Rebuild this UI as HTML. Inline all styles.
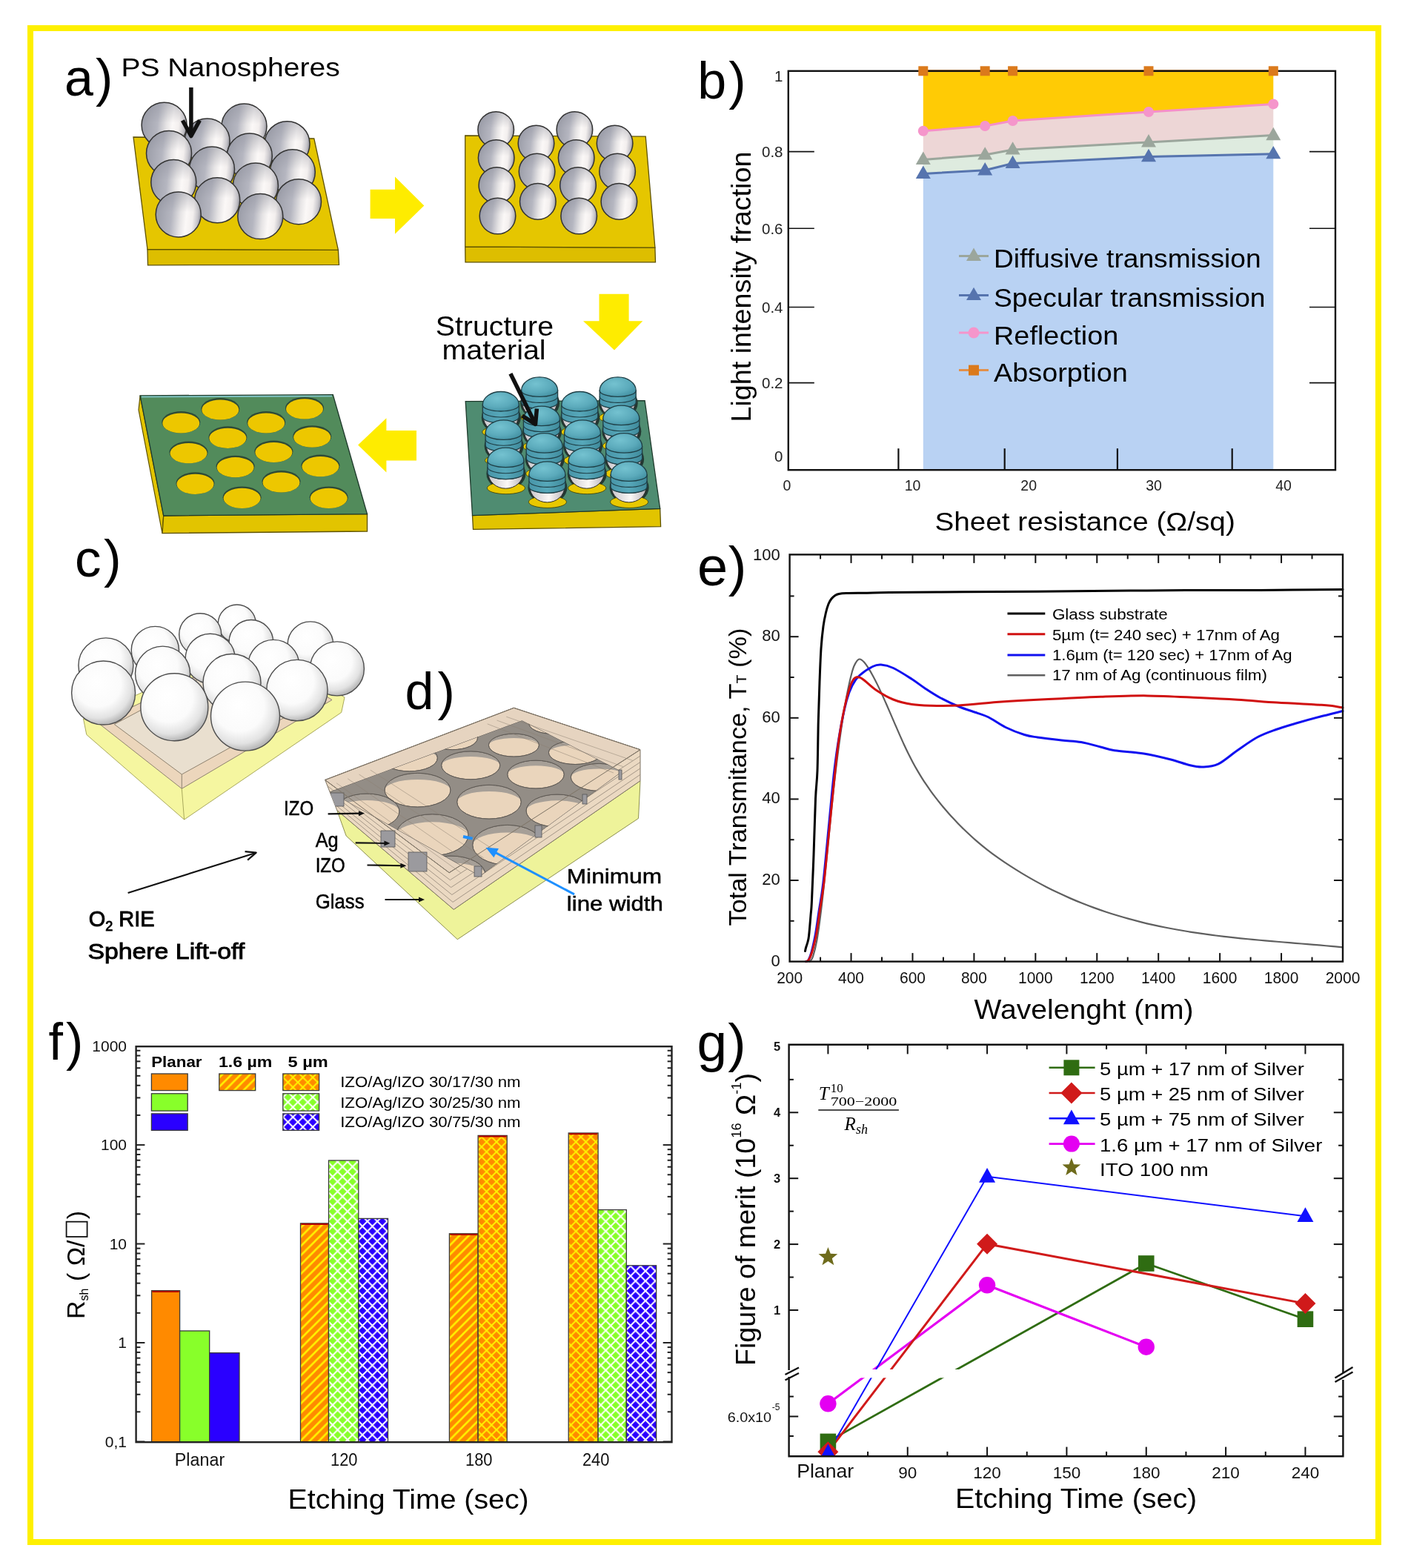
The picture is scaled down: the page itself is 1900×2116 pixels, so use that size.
<!DOCTYPE html>
<html><head><meta charset="utf-8"><title>Figure</title>
<style>html,body{margin:0;padding:0;background:#fff;}svg{display:block;}
text{font-family:"Liberation Sans", Arial, sans-serif;}</style></head>
<body><svg width="1900" height="2116" viewBox="0 0 1900 2116">
<defs><linearGradient id="sphA" x1="0" y1="0.45" x2="1" y2="0.55"><stop offset="0" stop-color="#9B9DA8"/><stop offset="0.35" stop-color="#B5B6C0"/><stop offset="0.55" stop-color="#E6E4E5"/><stop offset="0.68" stop-color="#FBF8F7"/><stop offset="0.82" stop-color="#F3EFEE"/><stop offset="0.93" stop-color="#C6C4C9"/><stop offset="1" stop-color="#8E8E97"/></linearGradient>
<linearGradient id="sphTop" x1="0" y1="0" x2="0" y2="1"><stop offset="0" stop-color="#8A8C98" stop-opacity="0.45"/><stop offset="0.45" stop-color="#8A8C98" stop-opacity="0"/></linearGradient>
<radialGradient id="tealT" cx="0.4" cy="0.35" r="0.75"><stop offset="0" stop-color="#74C2D0"/><stop offset="0.6" stop-color="#5BAABB"/><stop offset="1" stop-color="#3F8D9F"/></radialGradient>
<linearGradient id="tealB" x1="0" y1="0" x2="1" y2="0"><stop offset="0" stop-color="#4895A8"/><stop offset="0.5" stop-color="#57A8BA"/><stop offset="1" stop-color="#3F8A9B"/></linearGradient>
<linearGradient id="wbot" x1="0" y1="0" x2="1" y2="0"><stop offset="0" stop-color="#C9C6CC"/><stop offset="0.55" stop-color="#FBF8F6"/><stop offset="1" stop-color="#B8B4BA"/></linearGradient>
<radialGradient id="sphC" cx="0.42" cy="0.38" r="0.66" fx="0.4" fy="0.33"><stop offset="0" stop-color="#FFFFFF"/><stop offset="0.55" stop-color="#FBFBFB"/><stop offset="0.8" stop-color="#E2E2E2"/><stop offset="1" stop-color="#A9A9A9"/></radialGradient>
<clipPath id="topD"><polygon points="438.7,1052.5 693.4,955.3 864,1011.7 864,1053.7 612.3,1227.3 454.7,1093.3"/></clipPath>
<clipPath id="meshD"><polygon points="444.8,1068.6 704.5,972.2 839.3,1041.4 647.6,1182.4"/></clipPath>
<pattern id="hO" patternUnits="userSpaceOnUse" width="12.5" height="12.5"><rect width="12.5" height="12.5" fill="#FF8A00"/><path d="M-2,14.5 L14.5,-2 M10.5,14.5 L14.5,10.5 M-2,2 L2,-2" stroke="#FFF200" stroke-width="2.6"/></pattern>
<pattern id="cO" patternUnits="userSpaceOnUse" width="13.4" height="13.4"><rect width="13.4" height="13.4" fill="#FF8A00"/><path d="M0,0 L13.4,13.4 M0,13.4 L13.4,0" stroke="#FFF200" stroke-width="2.0" stroke-linecap="square"/></pattern>
<pattern id="cG" patternUnits="userSpaceOnUse" width="13.4" height="13.4"><rect width="13.4" height="13.4" fill="#88FF2A"/><path d="M0,0 L13.4,13.4 M0,13.4 L13.4,0" stroke="#FFFFFF" stroke-width="2.0" stroke-linecap="square"/></pattern>
<pattern id="cB" patternUnits="userSpaceOnUse" width="13.4" height="13.4"><rect width="13.4" height="13.4" fill="#2A00FF"/><path d="M0,0 L13.4,13.4 M0,13.4 L13.4,0" stroke="#FFFFFF" stroke-width="2.0" stroke-linecap="square"/></pattern>
<clipPath id="plotG"><rect x="1064.6" y="1409.8" width="747.8000000000002" height="555.4000000000001"/></clipPath></defs>
<rect x="0" y="0" width="1900" height="2116" fill="#fff"/>
<polygon points="199,336.5 456.4,337.4 457.5,357.4 199.5,357.8" fill="#DDBE00" stroke="#5E5200" stroke-width="1.3"/>
<polygon points="180,185 423.8,187 456.4,337.4 199,336.5" fill="#E5C600" stroke="#5E5200" stroke-width="1.3"/>
<circle cx="221.6" cy="168.8" r="30.5" fill="url(#sphA)" stroke="none" stroke-width="1"/>
<circle cx="221.6" cy="168.8" r="30.5" fill="url(#sphTop)" stroke="#333" stroke-width="1.5"/>
<circle cx="329.5" cy="170.6" r="30.5" fill="url(#sphA)" stroke="none" stroke-width="1"/>
<circle cx="329.5" cy="170.6" r="30.5" fill="url(#sphTop)" stroke="#333" stroke-width="1.5"/>
<circle cx="279.6" cy="190.6" r="30.5" fill="url(#sphA)" stroke="none" stroke-width="1"/>
<circle cx="279.6" cy="190.6" r="30.5" fill="url(#sphTop)" stroke="#333" stroke-width="1.5"/>
<circle cx="387.5" cy="194.2" r="30.5" fill="url(#sphA)" stroke="none" stroke-width="1"/>
<circle cx="387.5" cy="194.2" r="30.5" fill="url(#sphTop)" stroke="#333" stroke-width="1.5"/>
<circle cx="228" cy="206.9" r="30.5" fill="url(#sphA)" stroke="none" stroke-width="1"/>
<circle cx="228" cy="206.9" r="30.5" fill="url(#sphTop)" stroke="#333" stroke-width="1.5"/>
<circle cx="336.8" cy="210.5" r="30.5" fill="url(#sphA)" stroke="none" stroke-width="1"/>
<circle cx="336.8" cy="210.5" r="30.5" fill="url(#sphTop)" stroke="#333" stroke-width="1.5"/>
<circle cx="286" cy="228.6" r="30.5" fill="url(#sphA)" stroke="none" stroke-width="1"/>
<circle cx="286" cy="228.6" r="30.5" fill="url(#sphTop)" stroke="#333" stroke-width="1.5"/>
<circle cx="394.8" cy="232.3" r="30.5" fill="url(#sphA)" stroke="none" stroke-width="1"/>
<circle cx="394.8" cy="232.3" r="30.5" fill="url(#sphTop)" stroke="#333" stroke-width="1.5"/>
<circle cx="234.3" cy="245.9" r="30.5" fill="url(#sphA)" stroke="none" stroke-width="1"/>
<circle cx="234.3" cy="245.9" r="30.5" fill="url(#sphTop)" stroke="#333" stroke-width="1.5"/>
<circle cx="344.9" cy="250.4" r="30.5" fill="url(#sphA)" stroke="none" stroke-width="1"/>
<circle cx="344.9" cy="250.4" r="30.5" fill="url(#sphTop)" stroke="#333" stroke-width="1.5"/>
<circle cx="293.2" cy="270.3" r="30.5" fill="url(#sphA)" stroke="none" stroke-width="1"/>
<circle cx="293.2" cy="270.3" r="30.5" fill="url(#sphTop)" stroke="#333" stroke-width="1.5"/>
<circle cx="403" cy="272.2" r="30.5" fill="url(#sphA)" stroke="none" stroke-width="1"/>
<circle cx="403" cy="272.2" r="30.5" fill="url(#sphTop)" stroke="#333" stroke-width="1.5"/>
<circle cx="240.7" cy="289.4" r="30.5" fill="url(#sphA)" stroke="none" stroke-width="1"/>
<circle cx="240.7" cy="289.4" r="30.5" fill="url(#sphTop)" stroke="#333" stroke-width="1.5"/>
<circle cx="351.3" cy="292.1" r="30.5" fill="url(#sphA)" stroke="none" stroke-width="1"/>
<circle cx="351.3" cy="292.1" r="30.5" fill="url(#sphTop)" stroke="#333" stroke-width="1.5"/>
<line x1="257.9" y1="118" x2="257.9" y2="180.5" stroke="#111" stroke-width="5.5"/>
<polyline points="246.4,162.5 257.9,183.5 269.4,162.5" fill="none" stroke="#111" stroke-width="5.5" stroke-linejoin="round" stroke-linecap="butt"/>
<text x="163.4" y="102.6" font-size="35" fill="#000" textLength="295.4" lengthAdjust="spacingAndGlyphs">PS Nanospheres</text>
<polygon points="499.6,255.8 533,255.8 533,238.5 572.3,277.5 533,315.8 533,295 499.6,295" fill="#FEEC00" stroke="none" stroke-width="1"/>
<polygon points="627.7,333 883.9,334.2 884.5,353.9 628,353.9" fill="#DDBE00" stroke="#5E5200" stroke-width="1.3"/>
<polygon points="627.7,183 871.2,184.2 883.9,334.2 627.7,333" fill="#E5C600" stroke="#5E5200" stroke-width="1.3"/>
<circle cx="669.2" cy="175" r="24.3" fill="url(#sphA)" stroke="none" stroke-width="1"/>
<circle cx="669.2" cy="175" r="24.3" fill="url(#sphTop)" stroke="#333" stroke-width="1.5"/>
<circle cx="775.4" cy="175" r="24.3" fill="url(#sphA)" stroke="none" stroke-width="1"/>
<circle cx="775.4" cy="175" r="24.3" fill="url(#sphTop)" stroke="#333" stroke-width="1.5"/>
<circle cx="723.5" cy="193.5" r="24.3" fill="url(#sphA)" stroke="none" stroke-width="1"/>
<circle cx="723.5" cy="193.5" r="24.3" fill="url(#sphTop)" stroke="#333" stroke-width="1.5"/>
<circle cx="829.6" cy="193.5" r="24.3" fill="url(#sphA)" stroke="none" stroke-width="1"/>
<circle cx="829.6" cy="193.5" r="24.3" fill="url(#sphTop)" stroke="#333" stroke-width="1.5"/>
<circle cx="669.7" cy="213.1" r="24.3" fill="url(#sphA)" stroke="none" stroke-width="1"/>
<circle cx="669.7" cy="213.1" r="24.3" fill="url(#sphTop)" stroke="#333" stroke-width="1.5"/>
<circle cx="777.7" cy="213.1" r="24.3" fill="url(#sphA)" stroke="none" stroke-width="1"/>
<circle cx="777.7" cy="213.1" r="24.3" fill="url(#sphTop)" stroke="#333" stroke-width="1.5"/>
<circle cx="724.6" cy="231.5" r="24.3" fill="url(#sphA)" stroke="none" stroke-width="1"/>
<circle cx="724.6" cy="231.5" r="24.3" fill="url(#sphTop)" stroke="#333" stroke-width="1.5"/>
<circle cx="833.1" cy="231.5" r="24.3" fill="url(#sphA)" stroke="none" stroke-width="1"/>
<circle cx="833.1" cy="231.5" r="24.3" fill="url(#sphTop)" stroke="#333" stroke-width="1.5"/>
<circle cx="670.4" cy="250" r="24.3" fill="url(#sphA)" stroke="none" stroke-width="1"/>
<circle cx="670.4" cy="250" r="24.3" fill="url(#sphTop)" stroke="#333" stroke-width="1.5"/>
<circle cx="780" cy="250" r="24.3" fill="url(#sphA)" stroke="none" stroke-width="1"/>
<circle cx="780" cy="250" r="24.3" fill="url(#sphTop)" stroke="#333" stroke-width="1.5"/>
<circle cx="725.8" cy="271.9" r="24.3" fill="url(#sphA)" stroke="none" stroke-width="1"/>
<circle cx="725.8" cy="271.9" r="24.3" fill="url(#sphTop)" stroke="#333" stroke-width="1.5"/>
<circle cx="835.4" cy="271.9" r="24.3" fill="url(#sphA)" stroke="none" stroke-width="1"/>
<circle cx="835.4" cy="271.9" r="24.3" fill="url(#sphTop)" stroke="#333" stroke-width="1.5"/>
<circle cx="671.5" cy="291.5" r="24.3" fill="url(#sphA)" stroke="none" stroke-width="1"/>
<circle cx="671.5" cy="291.5" r="24.3" fill="url(#sphTop)" stroke="#333" stroke-width="1.5"/>
<circle cx="781.2" cy="291.5" r="24.3" fill="url(#sphA)" stroke="none" stroke-width="1"/>
<circle cx="781.2" cy="291.5" r="24.3" fill="url(#sphTop)" stroke="#333" stroke-width="1.5"/>
<polygon points="808.5,396.8 848.6,396.8 848.6,433.2 867.3,433.2 829,472.5 787,433.2 808.5,433.2" fill="#FEEC00" stroke="none" stroke-width="1"/>
<polygon points="637.5,695.7 890.7,686.4 891.6,710.7 638.5,714.4" fill="#E2C400" stroke="#5E5200" stroke-width="1.3"/>
<polygon points="628.2,541.6 870.1,540.7 890.7,686.4 637.5,695.7" fill="#4F8C71" stroke="#1F3A2C" stroke-width="1.3"/>
<ellipse cx="728.6" cy="543.9" rx="26.5" ry="22" fill="#233832" stroke="none" stroke-width="1"/>
<ellipse cx="728.6" cy="563.4" rx="25.5" ry="8" fill="#E8C800" stroke="#3a3a00" stroke-width="0.8"/>
<path d="M704.6,542.9 A23.5,8.5 0 0 0 751.6,542.9 A23.5,21 0 0 1 704.6,542.9 Z" fill="url(#wbot)" stroke="#2a2a2a" stroke-width="1"/>
<path d="M703.6,526.9 L703.6,542.9 A24.5,8.5 0 0 0 752.6,542.9 L752.6,526.9 Z" fill="url(#tealB)" stroke="#1F3F46" stroke-width="1.3"/>
<path d="M703.6,534.9 A24.5,8.5 0 0 0 752.6,534.9" fill="none" stroke="#1F3F46" stroke-width="1.1"/>
<path d="M703.6,526.9 A24.5,18 0 0 1 752.6,526.9 A24.5,8.5 0 0 1 703.6,526.9 Z" fill="url(#tealT)" stroke="#1F3F46" stroke-width="1.3"/>
<ellipse cx="834.2" cy="543.9" rx="26.5" ry="22" fill="#233832" stroke="none" stroke-width="1"/>
<ellipse cx="834.2" cy="563.4" rx="25.5" ry="8" fill="#E8C800" stroke="#3a3a00" stroke-width="0.8"/>
<path d="M810.2,542.9 A23.5,8.5 0 0 0 857.2,542.9 A23.5,21 0 0 1 810.2,542.9 Z" fill="url(#wbot)" stroke="#2a2a2a" stroke-width="1"/>
<path d="M809.2,526.9 L809.2,542.9 A24.5,8.5 0 0 0 858.2,542.9 L858.2,526.9 Z" fill="url(#tealB)" stroke="#1F3F46" stroke-width="1.3"/>
<path d="M809.2,534.9 A24.5,8.5 0 0 0 858.2,534.9" fill="none" stroke="#1F3F46" stroke-width="1.1"/>
<path d="M809.2,526.9 A24.5,18 0 0 1 858.2,526.9 A24.5,8.5 0 0 1 809.2,526.9 Z" fill="url(#tealT)" stroke="#1F3F46" stroke-width="1.3"/>
<ellipse cx="676.3" cy="563.5" rx="26.5" ry="22" fill="#233832" stroke="none" stroke-width="1"/>
<ellipse cx="676.3" cy="583" rx="25.5" ry="8" fill="#E8C800" stroke="#3a3a00" stroke-width="0.8"/>
<path d="M652.3,562.5 A23.5,8.5 0 0 0 699.3,562.5 A23.5,21 0 0 1 652.3,562.5 Z" fill="url(#wbot)" stroke="#2a2a2a" stroke-width="1"/>
<path d="M651.3,546.5 L651.3,562.5 A24.5,8.5 0 0 0 700.3,562.5 L700.3,546.5 Z" fill="url(#tealB)" stroke="#1F3F46" stroke-width="1.3"/>
<path d="M651.3,554.5 A24.5,8.5 0 0 0 700.3,554.5" fill="none" stroke="#1F3F46" stroke-width="1.1"/>
<path d="M651.3,546.5 A24.5,18 0 0 1 700.3,546.5 A24.5,8.5 0 0 1 651.3,546.5 Z" fill="url(#tealT)" stroke="#1F3F46" stroke-width="1.3"/>
<ellipse cx="782.8" cy="563.5" rx="26.5" ry="22" fill="#233832" stroke="none" stroke-width="1"/>
<ellipse cx="782.8" cy="583" rx="25.5" ry="8" fill="#E8C800" stroke="#3a3a00" stroke-width="0.8"/>
<path d="M758.8,562.5 A23.5,8.5 0 0 0 805.8,562.5 A23.5,21 0 0 1 758.8,562.5 Z" fill="url(#wbot)" stroke="#2a2a2a" stroke-width="1"/>
<path d="M757.8,546.5 L757.8,562.5 A24.5,8.5 0 0 0 806.8,562.5 L806.8,546.5 Z" fill="url(#tealB)" stroke="#1F3F46" stroke-width="1.3"/>
<path d="M757.8,554.5 A24.5,8.5 0 0 0 806.8,554.5" fill="none" stroke="#1F3F46" stroke-width="1.1"/>
<path d="M757.8,546.5 A24.5,18 0 0 1 806.8,546.5 A24.5,8.5 0 0 1 757.8,546.5 Z" fill="url(#tealT)" stroke="#1F3F46" stroke-width="1.3"/>
<ellipse cx="838.8" cy="582.2" rx="26.5" ry="22" fill="#233832" stroke="none" stroke-width="1"/>
<ellipse cx="838.8" cy="601.7" rx="25.5" ry="8" fill="#E8C800" stroke="#3a3a00" stroke-width="0.8"/>
<path d="M814.8,581.2 A23.5,8.5 0 0 0 861.8,581.2 A23.5,21 0 0 1 814.8,581.2 Z" fill="url(#wbot)" stroke="#2a2a2a" stroke-width="1"/>
<path d="M813.8,565.2 L813.8,581.2 A24.5,8.5 0 0 0 862.8,581.2 L862.8,565.2 Z" fill="url(#tealB)" stroke="#1F3F46" stroke-width="1.3"/>
<path d="M813.8,573.2 A24.5,8.5 0 0 0 862.8,573.2" fill="none" stroke="#1F3F46" stroke-width="1.1"/>
<path d="M813.8,565.2 A24.5,18 0 0 1 862.8,565.2 A24.5,8.5 0 0 1 813.8,565.2 Z" fill="url(#tealT)" stroke="#1F3F46" stroke-width="1.3"/>
<ellipse cx="731.4" cy="583.1" rx="26.5" ry="22" fill="#233832" stroke="none" stroke-width="1"/>
<ellipse cx="731.4" cy="602.6" rx="25.5" ry="8" fill="#E8C800" stroke="#3a3a00" stroke-width="0.8"/>
<path d="M707.4,582.1 A23.5,8.5 0 0 0 754.4,582.1 A23.5,21 0 0 1 707.4,582.1 Z" fill="url(#wbot)" stroke="#2a2a2a" stroke-width="1"/>
<path d="M706.4,566.1 L706.4,582.1 A24.5,8.5 0 0 0 755.4,582.1 L755.4,566.1 Z" fill="url(#tealB)" stroke="#1F3F46" stroke-width="1.3"/>
<path d="M706.4,574.1 A24.5,8.5 0 0 0 755.4,574.1" fill="none" stroke="#1F3F46" stroke-width="1.1"/>
<path d="M706.4,566.1 A24.5,18 0 0 1 755.4,566.1 A24.5,8.5 0 0 1 706.4,566.1 Z" fill="url(#tealT)" stroke="#1F3F46" stroke-width="1.3"/>
<ellipse cx="680.1" cy="601.8" rx="26.5" ry="22" fill="#233832" stroke="none" stroke-width="1"/>
<ellipse cx="680.1" cy="621.3" rx="25.5" ry="8" fill="#E8C800" stroke="#3a3a00" stroke-width="0.8"/>
<path d="M656.1,600.8 A23.5,8.5 0 0 0 703.1,600.8 A23.5,21 0 0 1 656.1,600.8 Z" fill="url(#wbot)" stroke="#2a2a2a" stroke-width="1"/>
<path d="M655.1,584.8 L655.1,600.8 A24.5,8.5 0 0 0 704.1,600.8 L704.1,584.8 Z" fill="url(#tealB)" stroke="#1F3F46" stroke-width="1.3"/>
<path d="M655.1,592.8 A24.5,8.5 0 0 0 704.1,592.8" fill="none" stroke="#1F3F46" stroke-width="1.1"/>
<path d="M655.1,584.8 A24.5,18 0 0 1 704.1,584.8 A24.5,8.5 0 0 1 655.1,584.8 Z" fill="url(#tealT)" stroke="#1F3F46" stroke-width="1.3"/>
<ellipse cx="786.5" cy="601.8" rx="26.5" ry="22" fill="#233832" stroke="none" stroke-width="1"/>
<ellipse cx="786.5" cy="621.3" rx="25.5" ry="8" fill="#E8C800" stroke="#3a3a00" stroke-width="0.8"/>
<path d="M762.5,600.8 A23.5,8.5 0 0 0 809.5,600.8 A23.5,21 0 0 1 762.5,600.8 Z" fill="url(#wbot)" stroke="#2a2a2a" stroke-width="1"/>
<path d="M761.5,584.8 L761.5,600.8 A24.5,8.5 0 0 0 810.5,600.8 L810.5,584.8 Z" fill="url(#tealB)" stroke="#1F3F46" stroke-width="1.3"/>
<path d="M761.5,592.8 A24.5,8.5 0 0 0 810.5,592.8" fill="none" stroke="#1F3F46" stroke-width="1.1"/>
<path d="M761.5,584.8 A24.5,18 0 0 1 810.5,584.8 A24.5,8.5 0 0 1 761.5,584.8 Z" fill="url(#tealT)" stroke="#1F3F46" stroke-width="1.3"/>
<ellipse cx="735.2" cy="619.6" rx="26.5" ry="22" fill="#233832" stroke="none" stroke-width="1"/>
<ellipse cx="735.2" cy="639.1" rx="25.5" ry="8" fill="#E8C800" stroke="#3a3a00" stroke-width="0.8"/>
<path d="M711.2,618.6 A23.5,8.5 0 0 0 758.2,618.6 A23.5,21 0 0 1 711.2,618.6 Z" fill="url(#wbot)" stroke="#2a2a2a" stroke-width="1"/>
<path d="M710.2,602.6 L710.2,618.6 A24.5,8.5 0 0 0 759.2,618.6 L759.2,602.6 Z" fill="url(#tealB)" stroke="#1F3F46" stroke-width="1.3"/>
<path d="M710.2,610.6 A24.5,8.5 0 0 0 759.2,610.6" fill="none" stroke="#1F3F46" stroke-width="1.1"/>
<path d="M710.2,602.6 A24.5,18 0 0 1 759.2,602.6 A24.5,8.5 0 0 1 710.2,602.6 Z" fill="url(#tealT)" stroke="#1F3F46" stroke-width="1.3"/>
<ellipse cx="842.6" cy="619.6" rx="26.5" ry="22" fill="#233832" stroke="none" stroke-width="1"/>
<ellipse cx="842.6" cy="639.1" rx="25.5" ry="8" fill="#E8C800" stroke="#3a3a00" stroke-width="0.8"/>
<path d="M818.6,618.6 A23.5,8.5 0 0 0 865.6,618.6 A23.5,21 0 0 1 818.6,618.6 Z" fill="url(#wbot)" stroke="#2a2a2a" stroke-width="1"/>
<path d="M817.6,602.6 L817.6,618.6 A24.5,8.5 0 0 0 866.6,618.6 L866.6,602.6 Z" fill="url(#tealB)" stroke="#1F3F46" stroke-width="1.3"/>
<path d="M817.6,610.6 A24.5,8.5 0 0 0 866.6,610.6" fill="none" stroke="#1F3F46" stroke-width="1.1"/>
<path d="M817.6,602.6 A24.5,18 0 0 1 866.6,602.6 A24.5,8.5 0 0 1 817.6,602.6 Z" fill="url(#tealT)" stroke="#1F3F46" stroke-width="1.3"/>
<ellipse cx="682.9" cy="639.2" rx="26.5" ry="22" fill="#233832" stroke="none" stroke-width="1"/>
<ellipse cx="682.9" cy="658.7" rx="25.5" ry="8" fill="#E8C800" stroke="#3a3a00" stroke-width="0.8"/>
<path d="M658.9,638.2 A23.5,8.5 0 0 0 705.9,638.2 A23.5,21 0 0 1 658.9,638.2 Z" fill="url(#wbot)" stroke="#2a2a2a" stroke-width="1"/>
<path d="M657.9,622.2 L657.9,638.2 A24.5,8.5 0 0 0 706.9,638.2 L706.9,622.2 Z" fill="url(#tealB)" stroke="#1F3F46" stroke-width="1.3"/>
<path d="M657.9,630.2 A24.5,8.5 0 0 0 706.9,630.2" fill="none" stroke="#1F3F46" stroke-width="1.1"/>
<path d="M657.9,622.2 A24.5,18 0 0 1 706.9,622.2 A24.5,8.5 0 0 1 657.9,622.2 Z" fill="url(#tealT)" stroke="#1F3F46" stroke-width="1.3"/>
<ellipse cx="792.2" cy="639.2" rx="26.5" ry="22" fill="#233832" stroke="none" stroke-width="1"/>
<ellipse cx="792.2" cy="658.7" rx="25.5" ry="8" fill="#E8C800" stroke="#3a3a00" stroke-width="0.8"/>
<path d="M768.2,638.2 A23.5,8.5 0 0 0 815.2,638.2 A23.5,21 0 0 1 768.2,638.2 Z" fill="url(#wbot)" stroke="#2a2a2a" stroke-width="1"/>
<path d="M767.2,622.2 L767.2,638.2 A24.5,8.5 0 0 0 816.2,638.2 L816.2,622.2 Z" fill="url(#tealB)" stroke="#1F3F46" stroke-width="1.3"/>
<path d="M767.2,630.2 A24.5,8.5 0 0 0 816.2,630.2" fill="none" stroke="#1F3F46" stroke-width="1.1"/>
<path d="M767.2,622.2 A24.5,18 0 0 1 816.2,622.2 A24.5,8.5 0 0 1 767.2,622.2 Z" fill="url(#tealT)" stroke="#1F3F46" stroke-width="1.3"/>
<ellipse cx="738.9" cy="657.9" rx="26.5" ry="22" fill="#233832" stroke="none" stroke-width="1"/>
<ellipse cx="738.9" cy="677.4" rx="25.5" ry="8" fill="#E8C800" stroke="#3a3a00" stroke-width="0.8"/>
<path d="M714.9,656.9 A23.5,8.5 0 0 0 761.9,656.9 A23.5,21 0 0 1 714.9,656.9 Z" fill="url(#wbot)" stroke="#2a2a2a" stroke-width="1"/>
<path d="M713.9,640.9 L713.9,656.9 A24.5,8.5 0 0 0 762.9,656.9 L762.9,640.9 Z" fill="url(#tealB)" stroke="#1F3F46" stroke-width="1.3"/>
<path d="M713.9,648.9 A24.5,8.5 0 0 0 762.9,648.9" fill="none" stroke="#1F3F46" stroke-width="1.1"/>
<path d="M713.9,640.9 A24.5,18 0 0 1 762.9,640.9 A24.5,8.5 0 0 1 713.9,640.9 Z" fill="url(#tealT)" stroke="#1F3F46" stroke-width="1.3"/>
<ellipse cx="849.1" cy="657.9" rx="26.5" ry="22" fill="#233832" stroke="none" stroke-width="1"/>
<ellipse cx="849.1" cy="677.4" rx="25.5" ry="8" fill="#E8C800" stroke="#3a3a00" stroke-width="0.8"/>
<path d="M825.1,656.9 A23.5,8.5 0 0 0 872.1,656.9 A23.5,21 0 0 1 825.1,656.9 Z" fill="url(#wbot)" stroke="#2a2a2a" stroke-width="1"/>
<path d="M824.1,640.9 L824.1,656.9 A24.5,8.5 0 0 0 873.1,656.9 L873.1,640.9 Z" fill="url(#tealB)" stroke="#1F3F46" stroke-width="1.3"/>
<path d="M824.1,648.9 A24.5,8.5 0 0 0 873.1,648.9" fill="none" stroke="#1F3F46" stroke-width="1.1"/>
<path d="M824.1,640.9 A24.5,18 0 0 1 873.1,640.9 A24.5,8.5 0 0 1 824.1,640.9 Z" fill="url(#tealT)" stroke="#1F3F46" stroke-width="1.3"/>
<text x="587.8" y="452.9" font-size="36" fill="#000" textLength="159.2" lengthAdjust="spacingAndGlyphs">Structure</text>
<text x="596.4" y="484.6" font-size="36" fill="#000" textLength="140.2" lengthAdjust="spacingAndGlyphs">material</text>
<line x1="688.9" y1="504.2" x2="721.17" y2="569.71" stroke="#111" stroke-width="5.5"/>
<polyline points="704.68,561.11 722.5,572.4 724.41,551.39" fill="none" stroke="#111" stroke-width="5.5" stroke-linejoin="round" stroke-linecap="butt"/>
<polygon points="562,581.1 521.4,581.1 521.4,564.2 483.1,600.5 521.4,637.4 521.4,621.6 562,621.6" fill="#FEEC00" stroke="none" stroke-width="1"/>
<polygon points="189.1,533.8 220.7,696 219,719.6 187,553" fill="#E2C400" stroke="#5E5200" stroke-width="1.2"/>
<polygon points="220.7,696 495.5,693.7 495.5,717 219,719.6" fill="#E2C400" stroke="#5E5200" stroke-width="1.3"/>
<polygon points="189.1,533.8 449.3,532.7 495.5,693.7 220.7,696" fill="#528B5B" stroke="#1F3A2C" stroke-width="1.3"/>
<line x1="191" y1="535.5" x2="448" y2="534.5" stroke="#7EC0C0" stroke-width="2"/>
<ellipse cx="297.3" cy="551.8" rx="26" ry="14.8" fill="#2E4A36" stroke="none" stroke-width="1"/>
<ellipse cx="297.3" cy="553" rx="25" ry="13.6" fill="#EDC700" stroke="none" stroke-width="1"/>
<ellipse cx="411" cy="550.7" rx="26" ry="14.8" fill="#2E4A36" stroke="none" stroke-width="1"/>
<ellipse cx="411" cy="551.9" rx="25" ry="13.6" fill="#EDC700" stroke="none" stroke-width="1"/>
<ellipse cx="244.3" cy="569.8" rx="26" ry="14.8" fill="#2E4A36" stroke="none" stroke-width="1"/>
<ellipse cx="244.3" cy="571" rx="25" ry="13.6" fill="#EDC700" stroke="none" stroke-width="1"/>
<ellipse cx="359.2" cy="569.8" rx="26" ry="14.8" fill="#2E4A36" stroke="none" stroke-width="1"/>
<ellipse cx="359.2" cy="571" rx="25" ry="13.6" fill="#EDC700" stroke="none" stroke-width="1"/>
<ellipse cx="307.4" cy="590.1" rx="26" ry="14.8" fill="#2E4A36" stroke="none" stroke-width="1"/>
<ellipse cx="307.4" cy="591.3" rx="25" ry="13.6" fill="#EDC700" stroke="none" stroke-width="1"/>
<ellipse cx="421.2" cy="589" rx="26" ry="14.8" fill="#2E4A36" stroke="none" stroke-width="1"/>
<ellipse cx="421.2" cy="590.2" rx="25" ry="13.6" fill="#EDC700" stroke="none" stroke-width="1"/>
<ellipse cx="254.5" cy="610.4" rx="26" ry="14.8" fill="#2E4A36" stroke="none" stroke-width="1"/>
<ellipse cx="254.5" cy="611.6" rx="25" ry="13.6" fill="#EDC700" stroke="none" stroke-width="1"/>
<ellipse cx="369.4" cy="609.3" rx="26" ry="14.8" fill="#2E4A36" stroke="none" stroke-width="1"/>
<ellipse cx="369.4" cy="610.5" rx="25" ry="13.6" fill="#EDC700" stroke="none" stroke-width="1"/>
<ellipse cx="317.6" cy="629.5" rx="26" ry="14.8" fill="#2E4A36" stroke="none" stroke-width="1"/>
<ellipse cx="317.6" cy="630.7" rx="25" ry="13.6" fill="#EDC700" stroke="none" stroke-width="1"/>
<ellipse cx="432.4" cy="628.4" rx="26" ry="14.8" fill="#2E4A36" stroke="none" stroke-width="1"/>
<ellipse cx="432.4" cy="629.6" rx="25" ry="13.6" fill="#EDC700" stroke="none" stroke-width="1"/>
<ellipse cx="263.5" cy="652.1" rx="26" ry="14.8" fill="#2E4A36" stroke="none" stroke-width="1"/>
<ellipse cx="263.5" cy="653.3" rx="25" ry="13.6" fill="#EDC700" stroke="none" stroke-width="1"/>
<ellipse cx="379.5" cy="649.8" rx="26" ry="14.8" fill="#2E4A36" stroke="none" stroke-width="1"/>
<ellipse cx="379.5" cy="651" rx="25" ry="13.6" fill="#EDC700" stroke="none" stroke-width="1"/>
<ellipse cx="326.6" cy="671.2" rx="26" ry="14.8" fill="#2E4A36" stroke="none" stroke-width="1"/>
<ellipse cx="326.6" cy="672.4" rx="25" ry="13.6" fill="#EDC700" stroke="none" stroke-width="1"/>
<ellipse cx="443.7" cy="671.2" rx="26" ry="14.8" fill="#2E4A36" stroke="none" stroke-width="1"/>
<ellipse cx="443.7" cy="672.4" rx="25" ry="13.6" fill="#EDC700" stroke="none" stroke-width="1"/>
<polygon points="112.5,970 116.8,991.4 248.6,1106 460.7,961.4 465,941 340,868" fill="#F5F6A0" stroke="#A9A95C" stroke-width="1"/>
<polygon points="133,976 245.3,1064.3 448,944.5 340,876" fill="#ECD6BC" stroke="#8E826F" stroke-width="1"/>
<polygon points="154.3,977.5 245.3,1045 442,936 340,878" fill="#E9DFCF" stroke="#8E826F" stroke-width="1"/>
<line x1="245.3" y1="1045" x2="245.3" y2="1064.3" stroke="#8E826F" stroke-width="1"/>
<line x1="245.3" y1="1064.3" x2="248.6" y2="1106" stroke="#A9A95C" stroke-width="1"/>
<line x1="112.5" y1="970" x2="133" y2="976" stroke="#A9A95C" stroke-width="1"/>
<circle cx="319.8" cy="841.5" r="25.5" fill="url(#sphC)" stroke="#4d4d4d" stroke-width="1.4"/>
<circle cx="270.2" cy="856.2" r="28.5" fill="url(#sphC)" stroke="#4d4d4d" stroke-width="1.4"/>
<circle cx="418.9" cy="869.7" r="30.8" fill="url(#sphC)" stroke="#4d4d4d" stroke-width="1.4"/>
<circle cx="338.9" cy="866.3" r="29.8" fill="url(#sphC)" stroke="#4d4d4d" stroke-width="1.4"/>
<circle cx="209.4" cy="877.6" r="32.2" fill="url(#sphC)" stroke="#4d4d4d" stroke-width="1.4"/>
<circle cx="142.9" cy="897.9" r="37" fill="url(#sphC)" stroke="#4d4d4d" stroke-width="1.4"/>
<circle cx="283.7" cy="888.8" r="33.5" fill="url(#sphC)" stroke="#4d4d4d" stroke-width="1.4"/>
<circle cx="369.3" cy="897.9" r="34.5" fill="url(#sphC)" stroke="#4d4d4d" stroke-width="1.4"/>
<circle cx="219.5" cy="909.1" r="37" fill="url(#sphC)" stroke="#4d4d4d" stroke-width="1.4"/>
<circle cx="454.9" cy="902.4" r="36.5" fill="url(#sphC)" stroke="#4d4d4d" stroke-width="1.4"/>
<circle cx="313" cy="921.5" r="39" fill="url(#sphC)" stroke="#4d4d4d" stroke-width="1.4"/>
<circle cx="400.9" cy="931.6" r="41.2" fill="url(#sphC)" stroke="#4d4d4d" stroke-width="1.4"/>
<circle cx="139.6" cy="935" r="43" fill="url(#sphC)" stroke="#4d4d4d" stroke-width="1.4"/>
<circle cx="235.3" cy="954.2" r="45.5" fill="url(#sphC)" stroke="#4d4d4d" stroke-width="1.4"/>
<circle cx="331" cy="966.6" r="46.5" fill="url(#sphC)" stroke="#4d4d4d" stroke-width="1.4"/>
<polygon points="454.7,1093.3 467.1,1127.9 617.3,1267.7 861.5,1104.4 864,1053.7 612.3,1227.3" fill="#EEF39A" stroke="#8E9150" stroke-width="1"/>
<polygon points="438.7,1052.5 693.4,955.3 864,1011.7 864,1053.7 612.3,1227.3 454.7,1093.3" fill="#EBD9C2" stroke="#7E7466" stroke-width="1"/>
<polyline points="441.9,1060.66 607.42,1187.62 864,1020.1" fill="none" stroke="#9C8F80" stroke-width="0.9" stroke-linejoin="round"/>
<polyline points="445.1,1068.82 608.64,1197.54 864,1028.5" fill="none" stroke="#9C8F80" stroke-width="0.9" stroke-linejoin="round"/>
<polyline points="448.3,1076.98 609.86,1207.46 864,1036.9" fill="none" stroke="#9C8F80" stroke-width="0.9" stroke-linejoin="round"/>
<polyline points="451.5,1085.14 611.08,1217.38 864,1045.3" fill="none" stroke="#9C8F80" stroke-width="0.9" stroke-linejoin="round"/>
<polygon points="438.7,1052.5 693.4,955.3 864,1011.7 606.2,1177.7" fill="#E6D4C0" stroke="#7E7466" stroke-width="1"/>
<g clip-path="url(#topD)"><g clip-path="url(#meshD)">
<ellipse cx="693.4" cy="1005.6" rx="34" ry="15.5" fill="#EAD5BC" stroke="none" stroke-width="1"/>
<path d="M659.4,1005.6 a34,15.5 0 0 1 68,0 a34,9.61 0 0 0 -68,0 Z" fill="#A69F97"/>
<ellipse cx="693.4" cy="1005.6" rx="34" ry="15.5" fill="none" stroke="#5E5954" stroke-width="1"/>
<ellipse cx="776.2" cy="1015.5" rx="35.8" ry="16" fill="#EAD5BC" stroke="none" stroke-width="1"/>
<path d="M740.4,1015.5 a35.8,16 0 0 1 71.6,0 a35.8,9.92 0 0 0 -71.6,0 Z" fill="#A69F97"/>
<ellipse cx="776.2" cy="1015.5" rx="35.8" ry="16" fill="none" stroke="#5E5954" stroke-width="1"/>
<ellipse cx="635.2" cy="1032.8" rx="39.6" ry="19" fill="#EAD5BC" stroke="none" stroke-width="1"/>
<path d="M595.6,1032.8 a39.6,19 0 0 1 79.2,0 a39.6,11.78 0 0 0 -79.2,0 Z" fill="#A69F97"/>
<ellipse cx="635.2" cy="1032.8" rx="39.6" ry="19" fill="none" stroke="#5E5954" stroke-width="1"/>
<ellipse cx="723" cy="1045.1" rx="38.3" ry="19" fill="#EAD5BC" stroke="none" stroke-width="1"/>
<path d="M684.7,1045.1 a38.3,19 0 0 1 76.6,0 a38.3,11.78 0 0 0 -76.6,0 Z" fill="#A69F97"/>
<ellipse cx="723" cy="1045.1" rx="38.3" ry="19" fill="none" stroke="#5E5954" stroke-width="1"/>
<ellipse cx="808.3" cy="1048.9" rx="38" ry="18.5" fill="#EAD5BC" stroke="none" stroke-width="1"/>
<path d="M770.3,1048.9 a38,18.5 0 0 1 76,0 a38,11.47 0 0 0 -76,0 Z" fill="#A69F97"/>
<ellipse cx="808.3" cy="1048.9" rx="38" ry="18.5" fill="none" stroke="#5E5954" stroke-width="1"/>
<ellipse cx="563.5" cy="1066.2" rx="44.5" ry="22.9" fill="#EAD5BC" stroke="none" stroke-width="1"/>
<path d="M519,1066.2 a44.5,22.9 0 0 1 89,0 a44.5,14.2 0 0 0 -89,0 Z" fill="#A69F97"/>
<ellipse cx="563.5" cy="1066.2" rx="44.5" ry="22.9" fill="none" stroke="#5E5954" stroke-width="1"/>
<ellipse cx="660" cy="1082.2" rx="43.3" ry="22.9" fill="#EAD5BC" stroke="none" stroke-width="1"/>
<path d="M616.7,1082.2 a43.3,22.9 0 0 1 86.6,0 a43.3,14.2 0 0 0 -86.6,0 Z" fill="#A69F97"/>
<ellipse cx="660" cy="1082.2" rx="43.3" ry="22.9" fill="none" stroke="#5E5954" stroke-width="1"/>
<ellipse cx="752" cy="1094" rx="42" ry="22" fill="#EAD5BC" stroke="none" stroke-width="1"/>
<path d="M710,1094 a42,22 0 0 1 84,0 a42,13.64 0 0 0 -84,0 Z" fill="#A69F97"/>
<ellipse cx="752" cy="1094" rx="42" ry="22" fill="none" stroke="#5E5954" stroke-width="1"/>
<ellipse cx="583.3" cy="1126.7" rx="48.8" ry="28" fill="#EAD5BC" stroke="none" stroke-width="1"/>
<path d="M534.5,1126.7 a48.8,28 0 0 1 97.6,0 a48.8,17.36 0 0 0 -97.6,0 Z" fill="#A69F97"/>
<ellipse cx="583.3" cy="1126.7" rx="48.8" ry="28" fill="none" stroke="#5E5954" stroke-width="1"/>
<ellipse cx="684.7" cy="1140.3" rx="47" ry="27" fill="#EAD5BC" stroke="none" stroke-width="1"/>
<path d="M637.7,1140.3 a47,27 0 0 1 94,0 a47,16.74 0 0 0 -94,0 Z" fill="#A69F97"/>
<ellipse cx="684.7" cy="1140.3" rx="47" ry="27" fill="none" stroke="#5E5954" stroke-width="1"/>
<ellipse cx="495" cy="1095" rx="44" ry="24" fill="#EAD5BC" stroke="none" stroke-width="1"/>
<path d="M451,1095 a44,24 0 0 1 88,0 a44,14.88 0 0 0 -88,0 Z" fill="#A69F97"/>
<ellipse cx="495" cy="1095" rx="44" ry="24" fill="none" stroke="#5E5954" stroke-width="1"/>
<ellipse cx="608" cy="1180" rx="47" ry="25" fill="#EAD5BC" stroke="none" stroke-width="1"/>
<path d="M561,1180 a47,25 0 0 1 94,0 a47,15.5 0 0 0 -94,0 Z" fill="#A69F97"/>
<ellipse cx="608" cy="1180" rx="47" ry="25" fill="none" stroke="#5E5954" stroke-width="1"/>
<ellipse cx="552.4" cy="1022.9" rx="38" ry="18" fill="#EAD5BC" stroke="none" stroke-width="1"/>
<path d="M514.4,1022.9 a38,18 0 0 1 76,0 a38,11.16 0 0 0 -76,0 Z" fill="#A69F97"/>
<ellipse cx="552.4" cy="1022.9" rx="38" ry="18" fill="none" stroke="#5E5954" stroke-width="1"/>
<ellipse cx="610.6" cy="995.7" rx="34" ry="16" fill="#EAD5BC" stroke="none" stroke-width="1"/>
<path d="M576.6,995.7 a34,16 0 0 1 68,0 a34,9.92 0 0 0 -68,0 Z" fill="#A69F97"/>
<ellipse cx="610.6" cy="995.7" rx="34" ry="16" fill="none" stroke="#5E5954" stroke-width="1"/>
<ellipse cx="665" cy="968" rx="31" ry="14" fill="#EAD5BC" stroke="none" stroke-width="1"/>
<path d="M634,968 a31,14 0 0 1 62,0 a31,8.68 0 0 0 -62,0 Z" fill="#A69F97"/>
<ellipse cx="665" cy="968" rx="31" ry="14" fill="none" stroke="#5E5954" stroke-width="1"/>
<ellipse cx="746.6" cy="976" rx="33" ry="14.5" fill="#EAD5BC" stroke="none" stroke-width="1"/>
<path d="M713.6,976 a33,14.5 0 0 1 66,0 a33,8.99 0 0 0 -66,0 Z" fill="#A69F97"/>
<ellipse cx="746.6" cy="976" rx="33" ry="14.5" fill="none" stroke="#5E5954" stroke-width="1"/>
<path d="M444.8,1068.6 L704.5,972.2 L839.3,1041.4 L647.6,1182.4 Z M659.4,1005.6 a34,15.5 0 1 0 68,0 a34,15.5 0 1 0 -68,0 Z M740.4,1015.5 a35.8,16 0 1 0 71.6,0 a35.8,16 0 1 0 -71.6,0 Z M595.6,1032.8 a39.6,19 0 1 0 79.2,0 a39.6,19 0 1 0 -79.2,0 Z M684.7,1045.1 a38.3,19 0 1 0 76.6,0 a38.3,19 0 1 0 -76.6,0 Z M770.3,1048.9 a38,18.5 0 1 0 76,0 a38,18.5 0 1 0 -76,0 Z M519,1066.2 a44.5,22.9 0 1 0 89,0 a44.5,22.9 0 1 0 -89,0 Z M616.7,1082.2 a43.3,22.9 0 1 0 86.6,0 a43.3,22.9 0 1 0 -86.6,0 Z M710,1094 a42,22 0 1 0 84,0 a42,22 0 1 0 -84,0 Z M534.5,1126.7 a48.8,28 0 1 0 97.6,0 a48.8,28 0 1 0 -97.6,0 Z M637.7,1140.3 a47,27 0 1 0 94,0 a47,27 0 1 0 -94,0 Z M451,1095 a44,24 0 1 0 88,0 a44,24 0 1 0 -88,0 Z M561,1180 a47,25 0 1 0 94,0 a47,25 0 1 0 -94,0 Z M514.4,1022.9 a38,18 0 1 0 76,0 a38,18 0 1 0 -76,0 Z M576.6,995.7 a34,16 0 1 0 68,0 a34,16 0 1 0 -68,0 Z M634,968 a31,14 0 1 0 62,0 a31,14 0 1 0 -62,0 Z M713.6,976 a33,14.5 0 1 0 66,0 a33,14.5 0 1 0 -66,0 Z" fill="#938D86" stroke="#5E5954" stroke-width="1" fill-rule="evenodd"/>
</g>
<rect x="446" y="1070" width="18" height="18" fill="#9B9A9E" stroke="#555" stroke-width="0.8"/>
<rect x="514" y="1121" width="19" height="22" fill="#9B9A9E" stroke="#555" stroke-width="0.8"/>
<rect x="551" y="1150" width="25" height="26" fill="#9B9A9E" stroke="#555" stroke-width="0.8"/>
<rect x="640" y="1169" width="10" height="14" fill="#9B9A9E" stroke="#555" stroke-width="0.8"/>
<rect x="722" y="1114" width="9" height="16" fill="#9B9A9E" stroke="#555" stroke-width="0.8"/>
<rect x="786" y="1072" width="6" height="13" fill="#9B9A9E" stroke="#555" stroke-width="0.8"/>
<rect x="835" y="1039" width="4" height="13" fill="#9B9A9E" stroke="#555" stroke-width="0.8"/>
</g>
<g clip-path="url(#topD)" opacity="0.55">
<line x1="453.98" y1="1056.67" x2="621.67" y2="1177.74" stroke="#8C8072" stroke-width="0.9"/>
<line x1="469.26" y1="1050.84" x2="637.14" y2="1167.78" stroke="#8C8072" stroke-width="0.9"/>
<line x1="484.55" y1="1045" x2="652.6" y2="1157.82" stroke="#8C8072" stroke-width="0.9"/>
<line x1="499.83" y1="1039.17" x2="668.07" y2="1147.86" stroke="#8C8072" stroke-width="0.9"/>
<line x1="657.74" y1="976.91" x2="827.91" y2="1042.94" stroke="#8C8072" stroke-width="0.9"/>
<line x1="670.48" y1="972.05" x2="840.8" y2="1034.64" stroke="#8C8072" stroke-width="0.9"/>
<line x1="683.21" y1="967.19" x2="853.69" y2="1026.34" stroke="#8C8072" stroke-width="0.9"/>
</g>
<polygon points="438.7,1052.5 693.4,955.3 864,1011.7 606.2,1177.7" fill="none" stroke="#7E7466" stroke-width="1"/>
<text x="383.1" y="1100.4" font-size="27" fill="#000" textLength="40.1" lengthAdjust="spacingAndGlyphs" stroke="#000" stroke-width="0.5">IZO</text>
<text x="425.7" y="1143" font-size="27" fill="#000" textLength="31" lengthAdjust="spacingAndGlyphs" stroke="#000" stroke-width="0.5">Ag</text>
<text x="425.7" y="1176.5" font-size="27" fill="#000" textLength="40.1" lengthAdjust="spacingAndGlyphs" stroke="#000" stroke-width="0.5">IZO</text>
<text x="425.7" y="1225.6" font-size="27" fill="#000" textLength="65.9" lengthAdjust="spacingAndGlyphs" stroke="#000" stroke-width="0.5">Glass</text>
<line x1="442.6" y1="1098.4" x2="487.2" y2="1097.59" stroke="#111" stroke-width="2.2"/>
<polygon points="484.07,1101.15 492,1097.5 483.94,1094.15" fill="#111" stroke="none" stroke-width="1"/>
<line x1="479.7" y1="1137.3" x2="521.6" y2="1137.93" stroke="#111" stroke-width="2.2"/>
<polygon points="518.35,1141.38 526.4,1138 518.45,1134.38" fill="#111" stroke="none" stroke-width="1"/>
<line x1="495.5" y1="1167.5" x2="543.6" y2="1168.23" stroke="#111" stroke-width="2.2"/>
<polygon points="540.35,1171.68 548.4,1168.3 540.45,1164.68" fill="#111" stroke="none" stroke-width="1"/>
<line x1="519.5" y1="1214" x2="568.2" y2="1214" stroke="#111" stroke-width="2.2"/>
<polygon points="565,1217.5 573,1214 565,1210.5" fill="#111" stroke="none" stroke-width="1"/>
<text x="764.8" y="1191.8" font-size="27" fill="#000" textLength="128.2" lengthAdjust="spacingAndGlyphs" stroke="#000" stroke-width="0.5">Minimum</text>
<text x="764.8" y="1228.9" font-size="27" fill="#000" textLength="130" lengthAdjust="spacingAndGlyphs" stroke="#000" stroke-width="0.5">line width</text>
<line x1="775" y1="1206.9" x2="663.99" y2="1148.19" stroke="#1E90FF" stroke-width="3"/>
<polygon points="672.92,1144.99 655.5,1143.7 666.37,1157.37" fill="#1E90FF" stroke="none" stroke-width="1"/>
<line x1="625" y1="1129" x2="637.6" y2="1131.6" stroke="#1E90FF" stroke-width="4"/>
<text x="119.7" y="1250.2" font-size="29" stroke="#000" stroke-width="0.9">O<tspan font-size="18" dy="6">2</tspan><tspan dy="-6"> RIE</tspan></text>
<text x="118.4" y="1294" font-size="29" fill="#000" textLength="211.8" lengthAdjust="spacingAndGlyphs" stroke="#000" stroke-width="0.9">Sphere Lift-off</text>
<line x1="172.6" y1="1205" x2="345.7" y2="1150.7" stroke="#111" stroke-width="2.2"/>
<polyline points="334.14,1160.62 345.7,1150.7 330.55,1149.17" fill="none" stroke="#111" stroke-width="2.2" stroke-linejoin="round"/>
<polygon points="1245.8,95.8 1718.3,95.8 1718.3,140.4 1550,151 1366.6,163 1329.2,170 1245.8,176.8" fill="#FFCB05" stroke="none" stroke-width="1"/>
<polygon points="1245.8,176.8 1329.2,170 1366.6,163 1550,151 1718.3,140.4 1718.3,182.6 1550,191.9 1366.6,202 1329.2,209 1245.8,215.4" fill="#EDD6D6" stroke="none" stroke-width="1"/>
<polygon points="1245.8,215.4 1329.2,209 1366.6,202 1550,191.9 1718.3,182.6 1718.3,207.7 1550,211.6 1366.6,220.5 1329.2,229.8 1245.8,234.4" fill="#DEEBDF" stroke="none" stroke-width="1"/>
<polygon points="1245.8,234.4 1329.2,229.8 1366.6,220.5 1550,211.6 1718.3,207.7 1718.3,634.2 1245.8,634.2" fill="#B9D2F3" stroke="none" stroke-width="1"/>
<polyline points="1245.8,176.8 1329.2,170 1366.6,163 1550,151 1718.3,140.4" fill="none" stroke="#F58FC8" stroke-width="3" stroke-linejoin="round"/>
<polyline points="1245.8,215.4 1329.2,209 1366.6,202 1550,191.9 1718.3,182.6" fill="none" stroke="#9BA69C" stroke-width="3" stroke-linejoin="round"/>
<polyline points="1245.8,234.4 1329.2,229.8 1366.6,220.5 1550,211.6 1718.3,207.7" fill="none" stroke="#5674AE" stroke-width="3" stroke-linejoin="round"/>
<line x1="1245.8" y1="95.8" x2="1718.3" y2="95.8" stroke="#E08A30" stroke-width="3"/>
<circle cx="1245.8" cy="176.8" r="7" fill="#F595CB" stroke="none" stroke-width="1"/>
<circle cx="1329.2" cy="170" r="7" fill="#F595CB" stroke="none" stroke-width="1"/>
<circle cx="1366.6" cy="163" r="7" fill="#F595CB" stroke="none" stroke-width="1"/>
<circle cx="1550" cy="151" r="7" fill="#F595CB" stroke="none" stroke-width="1"/>
<circle cx="1718.3" cy="140.4" r="7" fill="#F595CB" stroke="none" stroke-width="1"/>
<polygon points="1245.8,204.61 1255.8,222.01 1235.8,222.01" fill="#9BA69C"/>
<polygon points="1329.2,198.21 1339.2,215.61 1319.2,215.61" fill="#9BA69C"/>
<polygon points="1366.6,191.21 1376.6,208.61 1356.6,208.61" fill="#9BA69C"/>
<polygon points="1550,181.11 1560,198.51 1540,198.51" fill="#9BA69C"/>
<polygon points="1718.3,171.81 1728.3,189.21 1708.3,189.21" fill="#9BA69C"/>
<polygon points="1245.8,223.61 1255.8,241.01 1235.8,241.01" fill="#5674AE"/>
<polygon points="1329.2,219.01 1339.2,236.41 1319.2,236.41" fill="#5674AE"/>
<polygon points="1366.6,209.71 1376.6,227.11 1356.6,227.11" fill="#5674AE"/>
<polygon points="1550,200.81 1560,218.21 1540,218.21" fill="#5674AE"/>
<polygon points="1718.3,196.91 1728.3,214.31 1708.3,214.31" fill="#5674AE"/>
<rect x="1063.8" y="95.8" width="738.2" height="538.4000000000001" fill="none" stroke="#111" stroke-width="2.4"/>
<rect x="1239.3" y="89.3" width="13" height="13" fill="#DB7A1C" stroke="none" stroke-width="1"/>
<rect x="1322.7" y="89.3" width="13" height="13" fill="#DB7A1C" stroke="none" stroke-width="1"/>
<rect x="1360.1" y="89.3" width="13" height="13" fill="#DB7A1C" stroke="none" stroke-width="1"/>
<rect x="1543.5" y="89.3" width="13" height="13" fill="#DB7A1C" stroke="none" stroke-width="1"/>
<rect x="1711.8" y="89.3" width="13" height="13" fill="#DB7A1C" stroke="none" stroke-width="1"/>
<line x1="1063.8" y1="204.6" x2="1098.8" y2="204.6" stroke="#111" stroke-width="1.6"/>
<line x1="1767" y1="204.6" x2="1802" y2="204.6" stroke="#111" stroke-width="1.6"/>
<line x1="1063.8" y1="308.2" x2="1098.8" y2="308.2" stroke="#111" stroke-width="1.6"/>
<line x1="1767" y1="308.2" x2="1802" y2="308.2" stroke="#111" stroke-width="1.6"/>
<line x1="1063.8" y1="414.5" x2="1098.8" y2="414.5" stroke="#111" stroke-width="1.6"/>
<line x1="1767" y1="414.5" x2="1802" y2="414.5" stroke="#111" stroke-width="1.6"/>
<line x1="1063.8" y1="516.6" x2="1098.8" y2="516.6" stroke="#111" stroke-width="1.6"/>
<line x1="1767" y1="516.6" x2="1802" y2="516.6" stroke="#111" stroke-width="1.6"/>
<line x1="1212.4" y1="634.2" x2="1212.4" y2="605.2" stroke="#111" stroke-width="2.2"/>
<line x1="1355.7" y1="634.2" x2="1355.7" y2="605.2" stroke="#111" stroke-width="2.2"/>
<line x1="1507.9" y1="634.2" x2="1507.9" y2="605.2" stroke="#111" stroke-width="2.2"/>
<line x1="1662.7" y1="634.2" x2="1662.7" y2="605.2" stroke="#111" stroke-width="2.2"/>
<text x="1056.5" y="110" font-size="20.5" fill="#222" text-anchor="end">1</text>
<text x="1056.5" y="212" font-size="20.5" fill="#222" text-anchor="end">0.8</text>
<text x="1056.5" y="316" font-size="20.5" fill="#222" text-anchor="end">0.6</text>
<text x="1056.5" y="422" font-size="20.5" fill="#222" text-anchor="end">0.4</text>
<text x="1056.5" y="524" font-size="20.5" fill="#222" text-anchor="end">0.2</text>
<text x="1056.5" y="623" font-size="20.5" fill="#222" text-anchor="end">0</text>
<text x="1062" y="662" font-size="19.5" fill="#222" text-anchor="middle">0</text>
<text x="1231.6" y="662" font-size="19.5" fill="#222" text-anchor="middle">10</text>
<text x="1388.2" y="662" font-size="19.5" fill="#222" text-anchor="middle">20</text>
<text x="1557.1" y="662" font-size="19.5" fill="#222" text-anchor="middle">30</text>
<text x="1732" y="662" font-size="19.5" fill="#222" text-anchor="middle">40</text>
<text x="1261.4" y="716.4" font-size="35.5" fill="#000" textLength="405.4" lengthAdjust="spacingAndGlyphs">Sheet resistance (&#937;/sq)</text>
<text x="0" y="0" font-size="37" transform="translate(1013.3 569.6) rotate(-90)" textLength="365" lengthAdjust="spacingAndGlyphs">Light intensity fraction</text>
<line x1="1294" y1="345.4" x2="1334" y2="345.4" stroke="#9BA69C" stroke-width="3"/>
<polygon points="1314,334.61 1324,352.01 1304,352.01" fill="#9BA69C"/>
<text x="1341" y="361" font-size="35.5" fill="#000" textLength="360.6" lengthAdjust="spacingAndGlyphs">Diffusive transmission</text>
<line x1="1294" y1="398.5" x2="1334" y2="398.5" stroke="#5674AE" stroke-width="3"/>
<polygon points="1314,387.71 1324,405.11 1304,405.11" fill="#5674AE"/>
<text x="1341" y="414.1" font-size="35.5" fill="#000" textLength="366.6" lengthAdjust="spacingAndGlyphs">Specular transmission</text>
<line x1="1294" y1="449" x2="1334" y2="449" stroke="#F595CB" stroke-width="3"/>
<circle cx="1314" cy="449" r="7.5" fill="#F595CB" stroke="none" stroke-width="1"/>
<text x="1341" y="464.6" font-size="35.5" fill="#000" textLength="168.4" lengthAdjust="spacingAndGlyphs">Reflection</text>
<line x1="1294" y1="499.6" x2="1334" y2="499.6" stroke="#E2904A" stroke-width="3"/>
<rect x="1307" y="492.6" width="14" height="14" fill="#DB7A1C" stroke="none" stroke-width="1"/>
<text x="1341" y="515.2" font-size="35.5" fill="#000" textLength="180.8" lengthAdjust="spacingAndGlyphs">Absorption</text>
<path d="M1092.5,1297.6 C1093.25,1296.5 1095.25,1296.43 1097,1291 C1098.75,1285.57 1100.83,1278.17 1103,1265 C1105.17,1251.83 1107.5,1234 1110,1212 C1112.5,1190 1115.33,1159.17 1118,1133 C1120.67,1106.83 1123.33,1078.5 1126,1055 C1128.67,1031.5 1131.33,1010.83 1134,992 C1136.67,973.17 1139.33,956.33 1142,942 C1144.67,927.67 1147.83,914 1150,906 C1152.17,898 1153.33,896.75 1155,894 C1156.67,891.25 1158.17,889.57 1160,889.5 C1161.83,889.43 1164,891.51 1166,893.59 C1168,895.66 1170,898.87 1172,901.97 C1174,905.07 1176,908.55 1178,912.2 C1180,915.85 1182,919.8 1184,923.87 C1186,927.94 1188,932.24 1190,936.59 C1192,940.95 1194,945.48 1196,950.02 C1198,954.56 1200,959.22 1202,963.85 C1204,968.49 1206,973.19 1208,977.81 C1210,982.43 1212,987.08 1214,991.6 C1216,996.12 1218,1000.61 1220,1004.93 C1222,1009.25 1224,1013.48 1226,1017.52 C1228,1021.56 1230,1025.43 1232,1029.16 C1234,1032.89 1236,1036.45 1238,1039.88 C1240,1043.32 1242,1046.61 1244,1049.8 C1246,1052.98 1248,1056.03 1250,1058.99 C1252,1061.95 1254,1064.79 1256,1067.56 C1258,1070.33 1260,1073 1262,1075.61 C1264,1078.22 1266,1080.74 1268,1083.22 C1270,1085.7 1272,1088.12 1274,1090.49 C1276,1092.86 1278,1095.18 1280,1097.45 C1282,1099.72 1284,1101.93 1286,1104.1 C1288,1106.27 1290,1108.39 1292,1110.47 C1294,1112.55 1296.67,1115.22 1298,1116.56 C1299.33,1117.9 1297,1115.74 1300,1118.53 C1303,1121.32 1310.67,1128.65 1316,1133.32 C1321.33,1137.98 1326.67,1142.34 1332,1146.52 C1337.33,1150.7 1342.67,1154.62 1348,1158.4 C1353.33,1162.18 1358.67,1165.74 1364,1169.2 C1369.33,1172.66 1374.67,1175.96 1380,1179.16 C1385.33,1182.36 1390.67,1185.43 1396,1188.4 C1401.33,1191.37 1406.67,1194.21 1412,1196.95 C1417.33,1199.69 1422.67,1202.32 1428,1204.85 C1433.33,1207.37 1438.67,1209.79 1444,1212.12 C1449.33,1214.44 1454.67,1216.66 1460,1218.79 C1465.33,1220.92 1470.67,1222.95 1476,1224.9 C1481.33,1226.85 1486.67,1228.7 1492,1230.48 C1497.33,1232.26 1502.67,1233.94 1508,1235.56 C1513.33,1237.17 1518.67,1238.7 1524,1240.16 C1529.33,1241.63 1534.67,1243.01 1540,1244.33 C1545.33,1245.65 1550.67,1246.9 1556,1248.09 C1561.33,1249.28 1566.67,1250.41 1572,1251.48 C1577.33,1252.55 1582.67,1253.56 1588,1254.52 C1593.33,1255.48 1598.67,1256.38 1604,1257.25 C1609.33,1258.11 1614.67,1258.92 1620,1259.69 C1625.33,1260.46 1630.67,1261.19 1636,1261.88 C1641.33,1262.57 1646.67,1263.23 1652,1263.85 C1657.33,1264.48 1662.67,1265.07 1668,1265.64 C1673.33,1266.2 1678.67,1266.74 1684,1267.26 C1689.33,1267.78 1694.67,1268.28 1700,1268.76 C1705.33,1269.24 1710.67,1269.71 1716,1270.16 C1721.33,1270.62 1726.67,1271.06 1732,1271.5 C1737.33,1271.94 1742.67,1272.37 1748,1272.81 C1753.33,1273.24 1758.67,1273.67 1764,1274.11 C1769.33,1274.55 1774.67,1274.99 1780,1275.45 C1785.33,1275.9 1790.67,1276.36 1796,1276.84 C1801.33,1277.32 1809.33,1278.08 1812,1278.33" fill="none" stroke="#5f5f5f" stroke-width="2.2" stroke-linejoin="round" stroke-linecap="round"/>
<path d="M1086.5,1283.5 C1086.67,1282.75 1086.92,1281.08 1087.5,1279 C1088.08,1276.92 1089.32,1273.77 1090,1271 C1090.68,1268.23 1090.93,1268.4 1091.6,1262.4 C1092.27,1256.4 1093.37,1242.58 1094,1235 C1094.63,1227.42 1094.73,1230.45 1095.4,1216.9 C1096.07,1203.35 1097.15,1176.87 1098,1153.7 C1098.85,1130.53 1099.67,1096.85 1100.5,1077.9 C1101.33,1058.95 1102.37,1057.53 1103,1040 C1103.63,1022.47 1103.8,992.7 1104.3,972.7 C1104.8,952.7 1105.38,936.28 1106,920 C1106.62,903.72 1107.17,887.5 1108,875 C1108.83,862.5 1109.93,853 1111,845 C1112.07,837 1113.23,832 1114.4,827 C1115.57,822 1116.73,818.17 1118,815 C1119.27,811.83 1120.5,809.92 1122,808 C1123.5,806.08 1125.33,804.58 1127,803.5 C1128.67,802.42 1129.5,801.98 1132,801.5 C1134.5,801.02 1135.67,800.82 1142,800.6 C1148.33,800.38 1160.33,800.37 1170,800.2 C1179.67,800.03 1178.33,799.83 1200,799.6 C1221.67,799.37 1266.67,799.03 1300,798.8 C1333.33,798.57 1366.67,798.45 1400,798.2 C1433.33,797.95 1466.67,797.57 1500,797.3 C1533.33,797.03 1566.67,796.75 1600,796.6 C1633.33,796.45 1664.67,796.57 1700,796.4 C1735.33,796.23 1793.33,795.73 1812,795.6" fill="none" stroke="#000" stroke-width="3" stroke-linejoin="round" stroke-linecap="round"/>
<path d="M1087.8,1297.6 C1088.33,1297.25 1089.8,1297.6 1091,1295.5 C1092.2,1293.4 1093.42,1290.93 1095,1285 C1096.58,1279.07 1098.83,1269.07 1100.5,1259.9 C1102.17,1250.73 1103.28,1241.38 1105,1230 C1106.72,1218.62 1108.58,1210.63 1110.8,1191.6 C1113.02,1172.57 1115.8,1141.07 1118.3,1115.8 C1120.8,1090.53 1123.35,1060.97 1125.8,1040 C1128.25,1019.03 1130.27,1005.67 1133,990 C1135.73,974.33 1139.37,956.83 1142.2,946 C1145.03,935.17 1147.05,930.75 1150,925 C1152.95,919.25 1155.3,915.75 1159.9,911.5 C1164.5,907.25 1172.77,901.92 1177.6,899.5 C1182.43,897.08 1184.27,896.67 1188.9,897 C1193.53,897.33 1198.45,898.25 1205.4,901.5 C1212.35,904.75 1223.45,911.92 1230.6,916.5 C1237.75,921.08 1241.98,924.83 1248.3,929 C1254.62,933.17 1260.92,937.42 1268.5,941.5 C1276.08,945.58 1285.37,950.03 1293.8,953.5 C1302.23,956.97 1312.37,959.88 1319.1,962.3 C1325.83,964.72 1327.88,964.8 1334.2,968 C1340.52,971.2 1348.98,977.58 1357,981.5 C1365.02,985.42 1375.13,989.25 1382.3,991.5 C1389.47,993.75 1391.6,993.75 1400,995 C1408.4,996.25 1422.87,997.92 1432.7,999 C1442.53,1000.08 1450.28,1000 1459,1001.5 C1467.72,1003 1477.5,1006.13 1485,1008 C1492.5,1009.87 1494.25,1011.2 1504,1012.7 C1513.75,1014.2 1530.83,1014.95 1543.5,1017 C1556.17,1019.05 1569.75,1022.42 1580,1025 C1590.25,1027.58 1597.9,1030.83 1605,1032.5 C1612.1,1034.17 1616.15,1035.22 1622.6,1035 C1629.05,1034.78 1635.8,1034.95 1643.7,1031.2 C1651.6,1027.45 1661.2,1018.53 1670,1012.5 C1678.8,1006.47 1687.83,999.67 1696.5,995 C1705.17,990.33 1713.22,987.67 1722,984.5 C1730.78,981.33 1739.53,978.83 1749.2,976 C1758.87,973.17 1769.53,970.25 1780,967.5 C1790.47,964.75 1806.67,960.83 1812,959.5" fill="none" stroke="#1010F0" stroke-width="3" stroke-linejoin="round" stroke-linecap="round"/>
<path d="M1087.8,1297.6 C1088.43,1297.17 1090.23,1297.27 1091.6,1295 C1092.97,1292.73 1094.32,1289.85 1096,1284 C1097.68,1278.15 1100.03,1268.9 1101.7,1259.9 C1103.37,1250.9 1104.32,1241.38 1106,1230 C1107.68,1218.62 1109.57,1210.63 1111.8,1191.6 C1114.03,1172.57 1116.87,1141.07 1119.4,1115.8 C1121.93,1090.53 1124.9,1059.63 1127,1040 C1129.1,1020.37 1129.9,1012.17 1132,998 C1134.1,983.83 1137.07,967 1139.6,955 C1142.13,943 1145.13,932.42 1147.2,926 C1149.27,919.58 1150.53,918.53 1152,916.5 C1153.47,914.47 1154.5,914.13 1156,913.8 C1157.5,913.47 1159.1,913.63 1161,914.5 C1162.9,915.37 1163.8,916.17 1167.4,919 C1171,921.83 1176.27,927.33 1182.6,931.5 C1188.93,935.67 1197.4,940.82 1205.4,944 C1213.4,947.18 1222.18,949.22 1230.6,950.6 C1239.02,951.98 1245.37,952.07 1255.9,952.3 C1266.43,952.53 1279.07,952.78 1293.8,952 C1308.53,951.22 1329.93,948.73 1344.3,947.6 C1358.67,946.47 1365.27,946 1380,945.2 C1394.73,944.4 1415.12,943.63 1432.7,942.8 C1450.28,941.97 1466.15,940.85 1485.5,940.2 C1504.85,939.55 1526.88,938.68 1548.8,938.9 C1570.72,939.12 1596.8,940.62 1617,941.5 C1637.2,942.38 1652.37,943.1 1670,944.2 C1687.63,945.3 1705.2,946.98 1722.8,948.1 C1740.4,949.22 1763.57,950.22 1775.6,950.9 C1787.63,951.58 1788.93,951.52 1795,952.2 C1801.07,952.88 1809.17,954.53 1812,955" fill="none" stroke="#D01010" stroke-width="3" stroke-linejoin="round" stroke-linecap="round"/>
<rect x="1065.6" y="748.4" width="746.4000000000001" height="549.1999999999999" fill="none" stroke="#111" stroke-width="2.4"/>
<line x1="1107.07" y1="1297.6" x2="1107.07" y2="1291.6" stroke="#111" stroke-width="2"/>
<line x1="1107.07" y1="748.4" x2="1107.07" y2="754.4" stroke="#111" stroke-width="2"/>
<line x1="1148.53" y1="1297.6" x2="1148.53" y2="1286.1" stroke="#111" stroke-width="2"/>
<line x1="1148.53" y1="748.4" x2="1148.53" y2="759.9" stroke="#111" stroke-width="2"/>
<line x1="1190" y1="1297.6" x2="1190" y2="1291.6" stroke="#111" stroke-width="2"/>
<line x1="1190" y1="748.4" x2="1190" y2="754.4" stroke="#111" stroke-width="2"/>
<line x1="1231.47" y1="1297.6" x2="1231.47" y2="1286.1" stroke="#111" stroke-width="2"/>
<line x1="1231.47" y1="748.4" x2="1231.47" y2="759.9" stroke="#111" stroke-width="2"/>
<line x1="1272.93" y1="1297.6" x2="1272.93" y2="1291.6" stroke="#111" stroke-width="2"/>
<line x1="1272.93" y1="748.4" x2="1272.93" y2="754.4" stroke="#111" stroke-width="2"/>
<line x1="1314.4" y1="1297.6" x2="1314.4" y2="1286.1" stroke="#111" stroke-width="2"/>
<line x1="1314.4" y1="748.4" x2="1314.4" y2="759.9" stroke="#111" stroke-width="2"/>
<line x1="1355.87" y1="1297.6" x2="1355.87" y2="1291.6" stroke="#111" stroke-width="2"/>
<line x1="1355.87" y1="748.4" x2="1355.87" y2="754.4" stroke="#111" stroke-width="2"/>
<line x1="1397.33" y1="1297.6" x2="1397.33" y2="1286.1" stroke="#111" stroke-width="2"/>
<line x1="1397.33" y1="748.4" x2="1397.33" y2="759.9" stroke="#111" stroke-width="2"/>
<line x1="1438.8" y1="1297.6" x2="1438.8" y2="1291.6" stroke="#111" stroke-width="2"/>
<line x1="1438.8" y1="748.4" x2="1438.8" y2="754.4" stroke="#111" stroke-width="2"/>
<line x1="1480.27" y1="1297.6" x2="1480.27" y2="1286.1" stroke="#111" stroke-width="2"/>
<line x1="1480.27" y1="748.4" x2="1480.27" y2="759.9" stroke="#111" stroke-width="2"/>
<line x1="1521.73" y1="1297.6" x2="1521.73" y2="1291.6" stroke="#111" stroke-width="2"/>
<line x1="1521.73" y1="748.4" x2="1521.73" y2="754.4" stroke="#111" stroke-width="2"/>
<line x1="1563.2" y1="1297.6" x2="1563.2" y2="1286.1" stroke="#111" stroke-width="2"/>
<line x1="1563.2" y1="748.4" x2="1563.2" y2="759.9" stroke="#111" stroke-width="2"/>
<line x1="1604.67" y1="1297.6" x2="1604.67" y2="1291.6" stroke="#111" stroke-width="2"/>
<line x1="1604.67" y1="748.4" x2="1604.67" y2="754.4" stroke="#111" stroke-width="2"/>
<line x1="1646.13" y1="1297.6" x2="1646.13" y2="1286.1" stroke="#111" stroke-width="2"/>
<line x1="1646.13" y1="748.4" x2="1646.13" y2="759.9" stroke="#111" stroke-width="2"/>
<line x1="1687.6" y1="1297.6" x2="1687.6" y2="1291.6" stroke="#111" stroke-width="2"/>
<line x1="1687.6" y1="748.4" x2="1687.6" y2="754.4" stroke="#111" stroke-width="2"/>
<line x1="1729.07" y1="1297.6" x2="1729.07" y2="1286.1" stroke="#111" stroke-width="2"/>
<line x1="1729.07" y1="748.4" x2="1729.07" y2="759.9" stroke="#111" stroke-width="2"/>
<line x1="1770.53" y1="1297.6" x2="1770.53" y2="1291.6" stroke="#111" stroke-width="2"/>
<line x1="1770.53" y1="748.4" x2="1770.53" y2="754.4" stroke="#111" stroke-width="2"/>
<line x1="1065.6" y1="1242.8" x2="1071.6" y2="1242.8" stroke="#111" stroke-width="2"/>
<line x1="1812" y1="1242.8" x2="1806" y2="1242.8" stroke="#111" stroke-width="2"/>
<line x1="1065.6" y1="1188" x2="1077.6" y2="1188" stroke="#111" stroke-width="2"/>
<line x1="1812" y1="1188" x2="1800" y2="1188" stroke="#111" stroke-width="2"/>
<line x1="1065.6" y1="1133.2" x2="1071.6" y2="1133.2" stroke="#111" stroke-width="2"/>
<line x1="1812" y1="1133.2" x2="1806" y2="1133.2" stroke="#111" stroke-width="2"/>
<line x1="1065.6" y1="1078.4" x2="1077.6" y2="1078.4" stroke="#111" stroke-width="2"/>
<line x1="1812" y1="1078.4" x2="1800" y2="1078.4" stroke="#111" stroke-width="2"/>
<line x1="1065.6" y1="1023.6" x2="1071.6" y2="1023.6" stroke="#111" stroke-width="2"/>
<line x1="1812" y1="1023.6" x2="1806" y2="1023.6" stroke="#111" stroke-width="2"/>
<line x1="1065.6" y1="968.8" x2="1077.6" y2="968.8" stroke="#111" stroke-width="2"/>
<line x1="1812" y1="968.8" x2="1800" y2="968.8" stroke="#111" stroke-width="2"/>
<line x1="1065.6" y1="914" x2="1071.6" y2="914" stroke="#111" stroke-width="2"/>
<line x1="1812" y1="914" x2="1806" y2="914" stroke="#111" stroke-width="2"/>
<line x1="1065.6" y1="859.2" x2="1077.6" y2="859.2" stroke="#111" stroke-width="2"/>
<line x1="1812" y1="859.2" x2="1800" y2="859.2" stroke="#111" stroke-width="2"/>
<line x1="1065.6" y1="804.4" x2="1071.6" y2="804.4" stroke="#111" stroke-width="2"/>
<line x1="1812" y1="804.4" x2="1806" y2="804.4" stroke="#111" stroke-width="2"/>
<text x="1065.6" y="1327.3" font-size="22.5" fill="#111" text-anchor="middle" textLength="34.95" lengthAdjust="spacingAndGlyphs">200</text>
<text x="1148.53" y="1327.3" font-size="22.5" fill="#111" text-anchor="middle" textLength="34.95" lengthAdjust="spacingAndGlyphs">400</text>
<text x="1231.47" y="1327.3" font-size="22.5" fill="#111" text-anchor="middle" textLength="34.95" lengthAdjust="spacingAndGlyphs">600</text>
<text x="1314.4" y="1327.3" font-size="22.5" fill="#111" text-anchor="middle" textLength="34.95" lengthAdjust="spacingAndGlyphs">800</text>
<text x="1397.33" y="1327.3" font-size="22.5" fill="#111" text-anchor="middle" textLength="46.6" lengthAdjust="spacingAndGlyphs">1000</text>
<text x="1480.27" y="1327.3" font-size="22.5" fill="#111" text-anchor="middle" textLength="46.6" lengthAdjust="spacingAndGlyphs">1200</text>
<text x="1563.2" y="1327.3" font-size="22.5" fill="#111" text-anchor="middle" textLength="46.6" lengthAdjust="spacingAndGlyphs">1400</text>
<text x="1646.13" y="1327.3" font-size="22.5" fill="#111" text-anchor="middle" textLength="46.6" lengthAdjust="spacingAndGlyphs">1600</text>
<text x="1729.07" y="1327.3" font-size="22.5" fill="#111" text-anchor="middle" textLength="46.6" lengthAdjust="spacingAndGlyphs">1800</text>
<text x="1812" y="1327.3" font-size="22.5" fill="#111" text-anchor="middle" textLength="46.6" lengthAdjust="spacingAndGlyphs">2000</text>
<text x="1052.8" y="1303.6" font-size="22" fill="#111" text-anchor="end">0</text>
<text x="1052.8" y="1194" font-size="22" fill="#111" text-anchor="end">20</text>
<text x="1052.8" y="1084.4" font-size="22" fill="#111" text-anchor="end">40</text>
<text x="1052.8" y="974.8" font-size="22" fill="#111" text-anchor="end">60</text>
<text x="1052.8" y="865.2" font-size="22" fill="#111" text-anchor="end">80</text>
<text x="1052.8" y="755.6" font-size="22" fill="#111" text-anchor="end">100</text>
<text x="1314.6" y="1374.5" font-size="37.5" fill="#000" textLength="296" lengthAdjust="spacingAndGlyphs">Wavelenght (nm)</text>
<text x="0" y="0" font-size="33" transform="translate(1006.9 1249.6) rotate(-90)" textLength="402" lengthAdjust="spacingAndGlyphs">Total Transmitance, T<tspan font-size="19">T</tspan> (%)</text>
<line x1="1359.5" y1="828.1" x2="1410.3" y2="828.1" stroke="#000" stroke-width="3"/>
<text x="1419.9" y="836" font-size="20.5" fill="#000" textLength="155.8" lengthAdjust="spacingAndGlyphs">Glass substrate</text>
<line x1="1359.5" y1="855.8" x2="1410.3" y2="855.8" stroke="#D01010" stroke-width="3"/>
<text x="1419.9" y="863.7" font-size="20.5" fill="#000" textLength="307.1" lengthAdjust="spacingAndGlyphs">5&#181;m (t= 240 sec) + 17nm of Ag</text>
<line x1="1359.5" y1="884" x2="1410.3" y2="884" stroke="#1010F0" stroke-width="3"/>
<text x="1419.9" y="891.4" font-size="20.5" fill="#000" textLength="323.7" lengthAdjust="spacingAndGlyphs">1.6&#181;m (t= 120 sec) + 17nm of Ag</text>
<line x1="1359.5" y1="911.2" x2="1410.3" y2="911.2" stroke="#5f5f5f" stroke-width="2.4"/>
<text x="1419.9" y="917.8" font-size="20.5" fill="#000" textLength="290.1" lengthAdjust="spacingAndGlyphs">17 nm of Ag (continuous film)</text>
<rect x="204.6" y="1741.7" width="38" height="204.5" fill="#FF8A00" stroke="#3a3a3a" stroke-width="1.3"/>
<line x1="205.6" y1="1742.9" x2="241.6" y2="1742.9" stroke="#B00000" stroke-width="2"/>
<rect x="242.6" y="1796" width="40.1" height="150.2" fill="#88FF2A" stroke="#3a3a3a" stroke-width="1.3"/>
<rect x="282.7" y="1825.7" width="40.3" height="120.5" fill="#2A00FF" stroke="#3a3a3a" stroke-width="1.3"/>
<rect x="405.5" y="1650.9" width="38" height="295.3" fill="url(#hO)" stroke="#3a3a3a" stroke-width="1.3"/>
<line x1="406.5" y1="1652.1" x2="442.5" y2="1652.1" stroke="#B00000" stroke-width="2"/>
<rect x="443.5" y="1566" width="40.3" height="380.2" fill="url(#cG)" stroke="#3a3a3a" stroke-width="1.3"/>
<rect x="483.8" y="1644.4" width="39.7" height="301.8" fill="url(#cB)" stroke="#3a3a3a" stroke-width="1.3"/>
<rect x="606.4" y="1664.8" width="38.7" height="281.4" fill="url(#hO)" stroke="#3a3a3a" stroke-width="1.3"/>
<line x1="607.4" y1="1666" x2="644.1" y2="1666" stroke="#B00000" stroke-width="2"/>
<rect x="645.1" y="1532.4" width="39.1" height="413.8" fill="url(#cO)" stroke="#3a3a3a" stroke-width="1.3"/>
<line x1="646.1" y1="1533.6" x2="683.2" y2="1533.6" stroke="#B00000" stroke-width="2"/>
<rect x="767.2" y="1529" width="39.9" height="417.2" fill="url(#cO)" stroke="#3a3a3a" stroke-width="1.3"/>
<line x1="768.2" y1="1530.2" x2="806.1" y2="1530.2" stroke="#B00000" stroke-width="2"/>
<rect x="807.1" y="1632.6" width="38.2" height="313.6" fill="url(#cG)" stroke="#3a3a3a" stroke-width="1.3"/>
<rect x="845.3" y="1707.8" width="40.3" height="238.4" fill="url(#cB)" stroke="#3a3a3a" stroke-width="1.3"/>
<rect x="183.6" y="1412.2" width="722.9" height="534.0" fill="none" stroke="#222" stroke-width="2.4"/>
<line x1="183.6" y1="1945.45" x2="195.4" y2="1945.45" stroke="#222" stroke-width="2"/>
<line x1="906.5" y1="1945.45" x2="894.7" y2="1945.45" stroke="#222" stroke-width="2"/>
<line x1="183.6" y1="1905.28" x2="189.4" y2="1905.28" stroke="#222" stroke-width="2"/>
<line x1="906.5" y1="1905.28" x2="900.7" y2="1905.28" stroke="#222" stroke-width="2"/>
<line x1="183.6" y1="1881.78" x2="189.4" y2="1881.78" stroke="#222" stroke-width="2"/>
<line x1="906.5" y1="1881.78" x2="900.7" y2="1881.78" stroke="#222" stroke-width="2"/>
<line x1="183.6" y1="1865.11" x2="189.4" y2="1865.11" stroke="#222" stroke-width="2"/>
<line x1="906.5" y1="1865.11" x2="900.7" y2="1865.11" stroke="#222" stroke-width="2"/>
<line x1="183.6" y1="1852.17" x2="189.4" y2="1852.17" stroke="#222" stroke-width="2"/>
<line x1="906.5" y1="1852.17" x2="900.7" y2="1852.17" stroke="#222" stroke-width="2"/>
<line x1="183.6" y1="1841.61" x2="189.4" y2="1841.61" stroke="#222" stroke-width="2"/>
<line x1="906.5" y1="1841.61" x2="900.7" y2="1841.61" stroke="#222" stroke-width="2"/>
<line x1="183.6" y1="1832.67" x2="189.4" y2="1832.67" stroke="#222" stroke-width="2"/>
<line x1="906.5" y1="1832.67" x2="900.7" y2="1832.67" stroke="#222" stroke-width="2"/>
<line x1="183.6" y1="1824.93" x2="189.4" y2="1824.93" stroke="#222" stroke-width="2"/>
<line x1="906.5" y1="1824.93" x2="900.7" y2="1824.93" stroke="#222" stroke-width="2"/>
<line x1="183.6" y1="1818.11" x2="189.4" y2="1818.11" stroke="#222" stroke-width="2"/>
<line x1="906.5" y1="1818.11" x2="900.7" y2="1818.11" stroke="#222" stroke-width="2"/>
<line x1="183.6" y1="1812" x2="195.4" y2="1812" stroke="#222" stroke-width="2"/>
<line x1="906.5" y1="1812" x2="894.7" y2="1812" stroke="#222" stroke-width="2"/>
<line x1="183.6" y1="1771.83" x2="189.4" y2="1771.83" stroke="#222" stroke-width="2"/>
<line x1="906.5" y1="1771.83" x2="900.7" y2="1771.83" stroke="#222" stroke-width="2"/>
<line x1="183.6" y1="1748.33" x2="189.4" y2="1748.33" stroke="#222" stroke-width="2"/>
<line x1="906.5" y1="1748.33" x2="900.7" y2="1748.33" stroke="#222" stroke-width="2"/>
<line x1="183.6" y1="1731.66" x2="189.4" y2="1731.66" stroke="#222" stroke-width="2"/>
<line x1="906.5" y1="1731.66" x2="900.7" y2="1731.66" stroke="#222" stroke-width="2"/>
<line x1="183.6" y1="1718.72" x2="189.4" y2="1718.72" stroke="#222" stroke-width="2"/>
<line x1="906.5" y1="1718.72" x2="900.7" y2="1718.72" stroke="#222" stroke-width="2"/>
<line x1="183.6" y1="1708.16" x2="189.4" y2="1708.16" stroke="#222" stroke-width="2"/>
<line x1="906.5" y1="1708.16" x2="900.7" y2="1708.16" stroke="#222" stroke-width="2"/>
<line x1="183.6" y1="1699.22" x2="189.4" y2="1699.22" stroke="#222" stroke-width="2"/>
<line x1="906.5" y1="1699.22" x2="900.7" y2="1699.22" stroke="#222" stroke-width="2"/>
<line x1="183.6" y1="1691.48" x2="189.4" y2="1691.48" stroke="#222" stroke-width="2"/>
<line x1="906.5" y1="1691.48" x2="900.7" y2="1691.48" stroke="#222" stroke-width="2"/>
<line x1="183.6" y1="1684.66" x2="189.4" y2="1684.66" stroke="#222" stroke-width="2"/>
<line x1="906.5" y1="1684.66" x2="900.7" y2="1684.66" stroke="#222" stroke-width="2"/>
<line x1="183.6" y1="1678.55" x2="195.4" y2="1678.55" stroke="#222" stroke-width="2"/>
<line x1="906.5" y1="1678.55" x2="894.7" y2="1678.55" stroke="#222" stroke-width="2"/>
<line x1="183.6" y1="1638.38" x2="189.4" y2="1638.38" stroke="#222" stroke-width="2"/>
<line x1="906.5" y1="1638.38" x2="900.7" y2="1638.38" stroke="#222" stroke-width="2"/>
<line x1="183.6" y1="1614.88" x2="189.4" y2="1614.88" stroke="#222" stroke-width="2"/>
<line x1="906.5" y1="1614.88" x2="900.7" y2="1614.88" stroke="#222" stroke-width="2"/>
<line x1="183.6" y1="1598.21" x2="189.4" y2="1598.21" stroke="#222" stroke-width="2"/>
<line x1="906.5" y1="1598.21" x2="900.7" y2="1598.21" stroke="#222" stroke-width="2"/>
<line x1="183.6" y1="1585.27" x2="189.4" y2="1585.27" stroke="#222" stroke-width="2"/>
<line x1="906.5" y1="1585.27" x2="900.7" y2="1585.27" stroke="#222" stroke-width="2"/>
<line x1="183.6" y1="1574.71" x2="189.4" y2="1574.71" stroke="#222" stroke-width="2"/>
<line x1="906.5" y1="1574.71" x2="900.7" y2="1574.71" stroke="#222" stroke-width="2"/>
<line x1="183.6" y1="1565.77" x2="189.4" y2="1565.77" stroke="#222" stroke-width="2"/>
<line x1="906.5" y1="1565.77" x2="900.7" y2="1565.77" stroke="#222" stroke-width="2"/>
<line x1="183.6" y1="1558.03" x2="189.4" y2="1558.03" stroke="#222" stroke-width="2"/>
<line x1="906.5" y1="1558.03" x2="900.7" y2="1558.03" stroke="#222" stroke-width="2"/>
<line x1="183.6" y1="1551.21" x2="189.4" y2="1551.21" stroke="#222" stroke-width="2"/>
<line x1="906.5" y1="1551.21" x2="900.7" y2="1551.21" stroke="#222" stroke-width="2"/>
<line x1="183.6" y1="1545.1" x2="195.4" y2="1545.1" stroke="#222" stroke-width="2"/>
<line x1="906.5" y1="1545.1" x2="894.7" y2="1545.1" stroke="#222" stroke-width="2"/>
<line x1="183.6" y1="1504.93" x2="189.4" y2="1504.93" stroke="#222" stroke-width="2"/>
<line x1="906.5" y1="1504.93" x2="900.7" y2="1504.93" stroke="#222" stroke-width="2"/>
<line x1="183.6" y1="1481.43" x2="189.4" y2="1481.43" stroke="#222" stroke-width="2"/>
<line x1="906.5" y1="1481.43" x2="900.7" y2="1481.43" stroke="#222" stroke-width="2"/>
<line x1="183.6" y1="1464.76" x2="189.4" y2="1464.76" stroke="#222" stroke-width="2"/>
<line x1="906.5" y1="1464.76" x2="900.7" y2="1464.76" stroke="#222" stroke-width="2"/>
<line x1="183.6" y1="1451.82" x2="189.4" y2="1451.82" stroke="#222" stroke-width="2"/>
<line x1="906.5" y1="1451.82" x2="900.7" y2="1451.82" stroke="#222" stroke-width="2"/>
<line x1="183.6" y1="1441.26" x2="189.4" y2="1441.26" stroke="#222" stroke-width="2"/>
<line x1="906.5" y1="1441.26" x2="900.7" y2="1441.26" stroke="#222" stroke-width="2"/>
<line x1="183.6" y1="1432.32" x2="189.4" y2="1432.32" stroke="#222" stroke-width="2"/>
<line x1="906.5" y1="1432.32" x2="900.7" y2="1432.32" stroke="#222" stroke-width="2"/>
<line x1="183.6" y1="1424.58" x2="189.4" y2="1424.58" stroke="#222" stroke-width="2"/>
<line x1="906.5" y1="1424.58" x2="900.7" y2="1424.58" stroke="#222" stroke-width="2"/>
<line x1="183.6" y1="1417.76" x2="189.4" y2="1417.76" stroke="#222" stroke-width="2"/>
<line x1="906.5" y1="1417.76" x2="900.7" y2="1417.76" stroke="#222" stroke-width="2"/>
<text x="171" y="1418.95" font-size="21" fill="#111" text-anchor="end">1000</text>
<text x="171" y="1552.4" font-size="21" fill="#111" text-anchor="end">100</text>
<text x="171" y="1685.85" font-size="21" fill="#111" text-anchor="end">10</text>
<text x="171" y="1819.3" font-size="21" fill="#111" text-anchor="end">1</text>
<text x="171" y="1952.75" font-size="21" fill="#111" text-anchor="end">0,1</text>
<text x="269.5" y="1977.5" font-size="23.5" fill="#111" text-anchor="middle" textLength="67.3" lengthAdjust="spacingAndGlyphs">Planar</text>
<text x="464.3" y="1977.5" font-size="23.5" fill="#111" text-anchor="middle" textLength="36.5" lengthAdjust="spacingAndGlyphs">120</text>
<text x="646.3" y="1977.5" font-size="23.5" fill="#111" text-anchor="middle" textLength="36.5" lengthAdjust="spacingAndGlyphs">180</text>
<text x="804.2" y="1977.5" font-size="23.5" fill="#111" text-anchor="middle" textLength="36.5" lengthAdjust="spacingAndGlyphs">240</text>
<text x="388.6" y="2035.6" font-size="36" fill="#000" textLength="325" lengthAdjust="spacingAndGlyphs">Etching Time (sec)</text>
<text x="0" y="0" font-size="34" transform="translate(113.7 1780) rotate(-90)">R<tspan font-size="16" dy="5">sh</tspan><tspan dy="-5"> ( &#937;/</tspan></text>
<rect x="89.6" y="1648.7" width="28" height="20.3" fill="none" stroke="#111" stroke-width="1.8"/>
<text x="0" y="0" font-size="34" transform="translate(113.7 1633.9) rotate(-90)" text-anchor="end">)</text>
<text x="204.2" y="1439.7" font-size="20" fill="#000" font-weight="bold" textLength="68.4" lengthAdjust="spacingAndGlyphs">Planar</text>
<text x="295" y="1439.7" font-size="20" fill="#000" font-weight="bold" textLength="72.4" lengthAdjust="spacingAndGlyphs">1.6 &#181;m</text>
<text x="388.6" y="1439.7" font-size="20" fill="#000" font-weight="bold" textLength="54.2" lengthAdjust="spacingAndGlyphs">5 &#181;m</text>
<rect x="204.4" y="1449" width="48.8" height="22.6" fill="#FF8A00" stroke="#3a3a3a" stroke-width="1.3"/>
<rect x="204.4" y="1475.8" width="48.8" height="23.3" fill="#88FF2A" stroke="#3a3a3a" stroke-width="1.3"/>
<rect x="204.4" y="1502.9" width="48.8" height="22.5" fill="#2A00FF" stroke="#3a3a3a" stroke-width="1.3"/>
<rect x="295.8" y="1449" width="48.9" height="22.6" fill="url(#hO)" stroke="#3a3a3a" stroke-width="1.3"/>
<rect x="381.8" y="1449" width="48.8" height="22.6" fill="url(#cO)" stroke="#3a3a3a" stroke-width="1.3"/>
<rect x="381.8" y="1475.8" width="48.8" height="23.3" fill="url(#cG)" stroke="#3a3a3a" stroke-width="1.3"/>
<rect x="381.8" y="1502.9" width="48.8" height="22.5" fill="url(#cB)" stroke="#3a3a3a" stroke-width="1.3"/>
<text x="459.2" y="1467" font-size="20" fill="#000" textLength="243.4" lengthAdjust="spacingAndGlyphs">IZO/Ag/IZO 30/17/30 nm</text>
<text x="459.2" y="1494.7" font-size="20" fill="#000" textLength="243.4" lengthAdjust="spacingAndGlyphs">IZO/Ag/IZO 30/25/30 nm</text>
<text x="459.2" y="1521.1" font-size="20" fill="#000" textLength="243.4" lengthAdjust="spacingAndGlyphs">IZO/Ag/IZO 30/75/30 nm</text>
<polyline points="1117.4,1945.4 1546.76,1705 1761.44,1780.2" fill="none" stroke="#2F6C12" stroke-width="2.8" stroke-linejoin="round"/>
<polyline points="1117.4,1894.3 1332.08,1734.3 1546.76,1817.7" fill="none" stroke="#E400F2" stroke-width="3.2" stroke-linejoin="round"/>
<polyline points="1117.4,1959.3 1332.08,1678.7 1761.44,1759.1" fill="none" stroke="#D01A1A" stroke-width="3" stroke-linejoin="round"/>
<polyline points="1117.4,1960.5 1332.08,1587.8 1761.44,1641.2" fill="none" stroke="#1010FF" stroke-width="2" stroke-linejoin="round"/>
<rect x="1066.6" y="1848" width="743.8" height="11.4" fill="#fff" stroke="none" stroke-width="1"/>
<g clip-path="url(#plotG)">
<polygon points="1117.4,1682.9 1120.73,1691.81 1130.24,1692.23 1122.79,1698.15 1125.34,1707.32 1117.4,1702.07 1109.46,1707.32 1112.01,1698.15 1104.56,1692.23 1114.07,1691.81" fill="#6E6B1C" stroke="none" stroke-width="1"/>
<rect x="1535.96" y="1694.2" width="21.6" height="21.6" fill="#2F6C12" stroke="none" stroke-width="1"/>
<rect x="1750.64" y="1769.4" width="21.6" height="21.6" fill="#2F6C12" stroke="none" stroke-width="1"/>
<rect x="1106.6" y="1934.6" width="21.6" height="21.6" fill="#2F6C12" stroke="none" stroke-width="1"/>
<circle cx="1117.4" cy="1894.3" r="11.2" fill="#E400F2" stroke="none" stroke-width="1"/>
<circle cx="1332.08" cy="1734.3" r="11.2" fill="#E400F2" stroke="none" stroke-width="1"/>
<circle cx="1546.76" cy="1817.7" r="11.2" fill="#E400F2" stroke="none" stroke-width="1"/>
<polygon points="1117.4,1945.3 1131.4,1959.3 1117.4,1973.3 1103.4,1959.3" fill="#D01A1A" stroke="none" stroke-width="1"/>
<polygon points="1332.08,1664.7 1346.08,1678.7 1332.08,1692.7 1318.08,1678.7" fill="#D01A1A" stroke="none" stroke-width="1"/>
<polygon points="1761.44,1745.1 1775.44,1759.1 1761.44,1773.1 1747.44,1759.1" fill="#D01A1A" stroke="none" stroke-width="1"/>
<polygon points="1117.4,1948.62 1128.4,1968.42 1106.4,1968.42" fill="#1010FF" stroke="none" stroke-width="1"/>
<polygon points="1332.08,1575.92 1343.08,1595.72 1321.08,1595.72" fill="#1010FF" stroke="none" stroke-width="1"/>
<polygon points="1761.44,1629.32 1772.44,1649.12 1750.44,1649.12" fill="#1010FF" stroke="none" stroke-width="1"/>
</g>
<path d="M1064.6,1849 L1064.6,1409.8 L1812.4,1409.8 L1812.4,1853" fill="none" stroke="#111" stroke-width="2.4"/>
<path d="M1064.6,1858 L1064.6,1965.2 L1812.4,1965.2 L1812.4,1862" fill="none" stroke="#111" stroke-width="2.4"/>
<line x1="1059.5" y1="1855" x2="1078" y2="1845.5" stroke="#111" stroke-width="2.4"/>
<line x1="1059.5" y1="1862.5" x2="1078" y2="1853" stroke="#111" stroke-width="2.4"/>
<line x1="1801.5" y1="1859.5" x2="1825.5" y2="1845" stroke="#111" stroke-width="2.4"/>
<line x1="1801.5" y1="1865" x2="1825.5" y2="1851.5" stroke="#111" stroke-width="2.4"/>
<line x1="1117.4" y1="1409.8" x2="1117.4" y2="1422.4" stroke="#111" stroke-width="2"/>
<line x1="1171.07" y1="1409.8" x2="1171.07" y2="1416.1" stroke="#111" stroke-width="2"/>
<line x1="1171.07" y1="1965.2" x2="1171.07" y2="1958.9" stroke="#111" stroke-width="2"/>
<line x1="1224.74" y1="1409.8" x2="1224.74" y2="1422.4" stroke="#111" stroke-width="2"/>
<line x1="1224.74" y1="1965.2" x2="1224.74" y2="1952.6" stroke="#111" stroke-width="2"/>
<line x1="1278.41" y1="1409.8" x2="1278.41" y2="1416.1" stroke="#111" stroke-width="2"/>
<line x1="1278.41" y1="1965.2" x2="1278.41" y2="1958.9" stroke="#111" stroke-width="2"/>
<line x1="1332.08" y1="1409.8" x2="1332.08" y2="1422.4" stroke="#111" stroke-width="2"/>
<line x1="1332.08" y1="1965.2" x2="1332.08" y2="1952.6" stroke="#111" stroke-width="2"/>
<line x1="1385.75" y1="1409.8" x2="1385.75" y2="1416.1" stroke="#111" stroke-width="2"/>
<line x1="1385.75" y1="1965.2" x2="1385.75" y2="1958.9" stroke="#111" stroke-width="2"/>
<line x1="1439.42" y1="1409.8" x2="1439.42" y2="1422.4" stroke="#111" stroke-width="2"/>
<line x1="1439.42" y1="1965.2" x2="1439.42" y2="1952.6" stroke="#111" stroke-width="2"/>
<line x1="1493.09" y1="1409.8" x2="1493.09" y2="1416.1" stroke="#111" stroke-width="2"/>
<line x1="1493.09" y1="1965.2" x2="1493.09" y2="1958.9" stroke="#111" stroke-width="2"/>
<line x1="1546.76" y1="1409.8" x2="1546.76" y2="1422.4" stroke="#111" stroke-width="2"/>
<line x1="1546.76" y1="1965.2" x2="1546.76" y2="1952.6" stroke="#111" stroke-width="2"/>
<line x1="1600.43" y1="1409.8" x2="1600.43" y2="1416.1" stroke="#111" stroke-width="2"/>
<line x1="1600.43" y1="1965.2" x2="1600.43" y2="1958.9" stroke="#111" stroke-width="2"/>
<line x1="1654.1" y1="1409.8" x2="1654.1" y2="1422.4" stroke="#111" stroke-width="2"/>
<line x1="1654.1" y1="1965.2" x2="1654.1" y2="1952.6" stroke="#111" stroke-width="2"/>
<line x1="1707.77" y1="1409.8" x2="1707.77" y2="1416.1" stroke="#111" stroke-width="2"/>
<line x1="1707.77" y1="1965.2" x2="1707.77" y2="1958.9" stroke="#111" stroke-width="2"/>
<line x1="1761.44" y1="1409.8" x2="1761.44" y2="1422.4" stroke="#111" stroke-width="2"/>
<line x1="1761.44" y1="1965.2" x2="1761.44" y2="1952.6" stroke="#111" stroke-width="2"/>
<line x1="1064.6" y1="1768" x2="1077.2" y2="1768" stroke="#111" stroke-width="2"/>
<line x1="1812.4" y1="1768" x2="1799.8" y2="1768" stroke="#111" stroke-width="2"/>
<line x1="1064.6" y1="1723.55" x2="1070.9" y2="1723.55" stroke="#111" stroke-width="2"/>
<line x1="1812.4" y1="1723.55" x2="1806.1" y2="1723.55" stroke="#111" stroke-width="2"/>
<line x1="1064.6" y1="1679.1" x2="1077.2" y2="1679.1" stroke="#111" stroke-width="2"/>
<line x1="1812.4" y1="1679.1" x2="1799.8" y2="1679.1" stroke="#111" stroke-width="2"/>
<line x1="1064.6" y1="1634.65" x2="1070.9" y2="1634.65" stroke="#111" stroke-width="2"/>
<line x1="1812.4" y1="1634.65" x2="1806.1" y2="1634.65" stroke="#111" stroke-width="2"/>
<line x1="1064.6" y1="1590.2" x2="1077.2" y2="1590.2" stroke="#111" stroke-width="2"/>
<line x1="1812.4" y1="1590.2" x2="1799.8" y2="1590.2" stroke="#111" stroke-width="2"/>
<line x1="1064.6" y1="1545.75" x2="1070.9" y2="1545.75" stroke="#111" stroke-width="2"/>
<line x1="1812.4" y1="1545.75" x2="1806.1" y2="1545.75" stroke="#111" stroke-width="2"/>
<line x1="1064.6" y1="1501.3" x2="1077.2" y2="1501.3" stroke="#111" stroke-width="2"/>
<line x1="1812.4" y1="1501.3" x2="1799.8" y2="1501.3" stroke="#111" stroke-width="2"/>
<line x1="1064.6" y1="1456.85" x2="1070.9" y2="1456.85" stroke="#111" stroke-width="2"/>
<line x1="1812.4" y1="1456.85" x2="1806.1" y2="1456.85" stroke="#111" stroke-width="2"/>
<line x1="1064.6" y1="1884.6" x2="1070.9" y2="1884.6" stroke="#111" stroke-width="2"/>
<line x1="1812.4" y1="1884.6" x2="1806.1" y2="1884.6" stroke="#111" stroke-width="2"/>
<line x1="1064.6" y1="1911.5" x2="1077.2" y2="1911.5" stroke="#111" stroke-width="2"/>
<line x1="1812.4" y1="1911.5" x2="1799.8" y2="1911.5" stroke="#111" stroke-width="2"/>
<line x1="1064.6" y1="1938" x2="1070.9" y2="1938" stroke="#111" stroke-width="2"/>
<line x1="1812.4" y1="1938" x2="1806.1" y2="1938" stroke="#111" stroke-width="2"/>
<text x="1048.7" y="1774" font-size="16.5" fill="#111" text-anchor="middle" font-weight="bold">1</text>
<text x="1048.7" y="1685.1" font-size="16.5" fill="#111" text-anchor="middle" font-weight="bold">2</text>
<text x="1048.7" y="1596.2" font-size="16.5" fill="#111" text-anchor="middle" font-weight="bold">3</text>
<text x="1048.7" y="1507.3" font-size="16.5" fill="#111" text-anchor="middle" font-weight="bold">4</text>
<text x="1048.7" y="1418.4" font-size="16.5" fill="#111" text-anchor="middle" font-weight="bold">5</text>
<text x="981.7" y="1919" font-size="19" fill="#111" textLength="59.4" lengthAdjust="spacingAndGlyphs">6.0x10</text>
<text x="1041.8" y="1903" font-size="12" fill="#111">-5</text>
<text x="1113.7" y="1994" font-size="25" fill="#111" text-anchor="middle" textLength="77" lengthAdjust="spacingAndGlyphs">Planar</text>
<text x="1224.74" y="1994.5" font-size="22.5" fill="#111" text-anchor="middle">90</text>
<text x="1332.08" y="1994.5" font-size="22.5" fill="#111" text-anchor="middle">120</text>
<text x="1439.42" y="1994.5" font-size="22.5" fill="#111" text-anchor="middle">150</text>
<text x="1546.76" y="1994.5" font-size="22.5" fill="#111" text-anchor="middle">180</text>
<text x="1654.1" y="1994.5" font-size="22.5" fill="#111" text-anchor="middle">210</text>
<text x="1761.44" y="1994.5" font-size="22.5" fill="#111" text-anchor="middle">240</text>
<text x="1289" y="2034.7" font-size="36" fill="#000" textLength="326.2" lengthAdjust="spacingAndGlyphs">Etching Time (sec)</text>
<text x="0" y="0" font-size="37" transform="translate(1019.3 1843) rotate(-90)" textLength="395" lengthAdjust="spacingAndGlyphs">Figure of merit (10<tspan font-size="18" dy="-19">16</tspan><tspan dy="19"> &#937;</tspan><tspan font-size="18" dy="-19">-1</tspan><tspan dy="19">)</tspan></text>
<text x="1104.8" y="1484.2" font-size="25" font-style="italic" style="font-family:Liberation Serif,serif">T</text>
<text x="1120.7" y="1474" font-size="17" style="font-family:Liberation Serif,serif">10</text>
<text x="1120.7" y="1491.7" font-size="17" style="font-family:Liberation Serif,serif" textLength="89.7" lengthAdjust="spacingAndGlyphs">700&#8722;2000</text>
<line x1="1104.3" y1="1498" x2="1212.9" y2="1498" stroke="#111" stroke-width="1.4"/>
<text x="1139.6" y="1524.6" font-size="25" font-style="italic" style="font-family:Liberation Serif,serif">R<tspan font-size="18" dy="5">sh</tspan></text>
<line x1="1415.6" y1="1440.8" x2="1477.6" y2="1440.8" stroke="#2F6C12" stroke-width="2.6"/>
<rect x="1435.4" y="1430.3" width="21" height="21" fill="#2F6C12" stroke="none" stroke-width="1"/>
<text x="1484" y="1450.8" font-size="24" fill="#000" textLength="275.9" lengthAdjust="spacingAndGlyphs">5 &#181;m + 17 nm of Silver</text>
<line x1="1415.6" y1="1475" x2="1477.6" y2="1475" stroke="#D01A1A" stroke-width="2.6"/>
<polygon points="1445.9,1460.5 1460.4,1475 1445.9,1489.5 1431.4,1475" fill="#D01A1A" stroke="none" stroke-width="1"/>
<text x="1484" y="1485" font-size="24" fill="#000" textLength="275.9" lengthAdjust="spacingAndGlyphs">5 &#181;m + 25 nm of Silver</text>
<line x1="1415.6" y1="1509.3" x2="1477.6" y2="1509.3" stroke="#1010FF" stroke-width="2.6"/>
<polygon points="1445.9,1497.42 1456.9,1517.22 1434.9,1517.22" fill="#1010FF" stroke="none" stroke-width="1"/>
<text x="1484" y="1519.3" font-size="24" fill="#000" textLength="275.9" lengthAdjust="spacingAndGlyphs">5 &#181;m + 75 nm of Silver</text>
<line x1="1415.6" y1="1543.6" x2="1477.6" y2="1543.6" stroke="#E400F2" stroke-width="2.6"/>
<circle cx="1445.9" cy="1543.6" r="11" fill="#E400F2" stroke="none" stroke-width="1"/>
<text x="1484" y="1553.6" font-size="24" fill="#000" textLength="300.4" lengthAdjust="spacingAndGlyphs">1.6 &#181;m + 17 nm of Silver</text>
<polygon points="1445.9,1562.6 1449.11,1571.18 1458.26,1571.58 1451.09,1577.29 1453.54,1586.12 1445.9,1581.06 1438.26,1586.12 1440.71,1577.29 1433.54,1571.58 1442.69,1571.18" fill="#6E6B1C" stroke="none" stroke-width="1"/>
<text x="1484" y="1586.6" font-size="24" fill="#000" textLength="146.8" lengthAdjust="spacingAndGlyphs">ITO 100 nm</text>
<text x="87.1" y="128.6" font-size="70">a<tspan dx="3.0">)</tspan></text>
<text x="941.2" y="133.3" font-size="70">b<tspan dx="3.0">)</tspan></text>
<text x="101" y="778" font-size="71">c<tspan dx="3.6">)</tspan></text>
<text x="546.5" y="957" font-size="70">d<tspan dx="5">)</tspan></text>
<text x="941" y="789.5" font-size="74">e<tspan dx="0.5">)</tspan></text>
<text x="65.6" y="1430" font-size="70">f<tspan dx="4">)</tspan></text>
<text x="940.5" y="1431.5" font-size="73">g<tspan dx="1.1">)</tspan></text>
<rect x="41" y="38" width="1819" height="2043" fill="none" stroke="#FEF000" stroke-width="8"/>
</svg></body></html>
